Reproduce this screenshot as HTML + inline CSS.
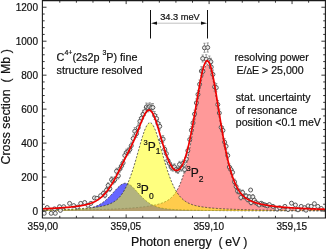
<!DOCTYPE html>
<html><head><meta charset="utf-8"><style>
html,body{margin:0;padding:0;background:#fff;width:326px;height:249px;overflow:hidden}
svg{display:block;will-change:transform}
text{font-family:"Liberation Sans",sans-serif;fill:#111;stroke:#111;stroke-width:0.2px}
</style></head><body>
<svg width="326" height="249" viewBox="0 0 326 249">
<rect width="326" height="249" fill="#fff"/>
<defs><clipPath id="c"><rect x="42.5" y="0.5" width="283" height="217.5"/></clipPath></defs>
<g clip-path="url(#c)">
<g fill="none" stroke="#333" stroke-width="0.8" stroke-dasharray="2,1.6">
<path d="M42.5,211.00 L42.50,210.35 L43.00,210.35 L43.50,210.34 L44.00,210.34 L44.50,210.33 L45.00,210.33 L45.50,210.33 L46.00,210.32 L46.50,210.32 L47.00,210.31 L47.50,210.31 L48.00,210.31 L48.50,210.30 L49.00,210.30 L49.50,210.29 L50.00,210.29 L50.50,210.28 L51.00,210.28 L51.50,210.27 L52.00,210.27 L52.50,210.26 L53.00,210.26 L53.50,210.26 L54.00,210.25 L54.50,210.25 L55.00,210.24 L55.50,210.24 L56.00,210.23 L56.50,210.23 L57.00,210.22 L57.50,210.22 L58.00,210.21 L58.50,210.20 L59.00,210.20 L59.50,210.19 L60.00,210.19 L60.50,210.18 L61.00,210.18 L61.50,210.17 L62.00,210.17 L62.50,210.16 L63.00,210.15 L63.50,210.15 L64.00,210.14 L64.50,210.14 L65.00,210.13 L65.50,210.13 L66.00,210.12 L66.50,210.11 L67.00,210.11 L67.50,210.10 L68.00,210.09 L68.50,210.09 L69.00,210.08 L69.50,210.07 L70.00,210.07 L70.50,210.06 L71.00,210.05 L71.50,210.05 L72.00,210.04 L72.50,210.03 L73.00,210.03 L73.50,210.02 L74.00,210.01 L74.50,210.00 L75.00,210.00 L75.50,209.99 L76.00,209.98 L76.50,209.97 L77.00,209.97 L77.50,209.96 L78.00,209.95 L78.50,209.94 L79.00,209.93 L79.50,209.93 L80.00,209.92 L80.50,209.91 L81.00,209.90 L81.50,209.89 L82.00,209.88 L82.50,209.87 L83.00,209.87 L83.50,209.86 L84.00,209.85 L84.50,209.84 L85.00,209.83 L85.50,209.82 L86.00,209.81 L86.50,209.80 L87.00,209.79 L87.50,209.78 L88.00,209.77 L88.50,209.76 L89.00,209.75 L89.50,209.74 L90.00,209.73 L90.50,209.72 L91.00,209.71 L91.50,209.70 L92.00,209.68 L92.50,209.67 L93.00,209.66 L93.50,209.65 L94.00,209.64 L94.50,209.63 L95.00,209.62 L95.50,209.60 L96.00,209.59 L96.50,209.58 L97.00,209.57 L97.50,209.55 L98.00,209.54 L98.50,209.53 L99.00,209.51 L99.50,209.50 L100.00,209.49 L100.50,209.47 L101.00,209.46 L101.50,209.44 L102.00,209.43 L102.50,209.41 L103.00,209.40 L103.50,209.38 L104.00,209.37 L104.50,209.35 L105.00,209.34 L105.50,209.32 L106.00,209.31 L106.50,209.29 L107.00,209.27 L107.50,209.26 L108.00,209.24 L108.50,209.22 L109.00,209.20 L109.50,209.19 L110.00,209.17 L110.50,209.15 L111.00,209.13 L111.50,209.11 L112.00,209.09 L112.50,209.07 L113.00,209.05 L113.50,209.03 L114.00,209.01 L114.50,208.99 L115.00,208.97 L115.50,208.95 L116.00,208.92 L116.50,208.90 L117.00,208.88 L117.50,208.86 L118.00,208.83 L118.50,208.81 L119.00,208.79 L119.50,208.76 L120.00,208.74 L120.50,208.71 L121.00,208.69 L121.50,208.66 L122.00,208.63 L122.50,208.61 L123.00,208.58 L123.50,208.55 L124.00,208.52 L124.50,208.49 L125.00,208.46 L125.50,208.43 L126.00,208.40 L126.50,208.37 L127.00,208.34 L127.50,208.31 L128.00,208.27 L128.50,208.24 L129.00,208.21 L129.50,208.17 L130.00,208.14 L130.50,208.10 L131.00,208.06 L131.50,208.03 L132.00,207.99 L132.50,207.95 L133.00,207.91 L133.50,207.87 L134.00,207.83 L134.50,207.79 L135.00,207.75 L135.50,207.70 L136.00,207.66 L136.50,207.61 L137.00,207.57 L137.50,207.52 L138.00,207.47 L138.50,207.42 L139.00,207.37 L139.50,207.32 L140.00,207.27 L140.50,207.22 L141.00,207.16 L141.50,207.11 L142.00,207.05 L142.50,206.99 L143.00,206.93 L143.50,206.87 L144.00,206.81 L144.50,206.75 L145.00,206.68 L145.50,206.62 L146.00,206.55 L146.50,206.48 L147.00,206.41 L147.50,206.34 L148.00,206.26 L148.50,206.19 L149.00,206.11 L149.50,206.03 L150.00,205.95 L150.50,205.86 L151.00,205.78 L151.50,205.69 L152.00,205.60 L152.50,205.50 L153.00,205.41 L153.50,205.31 L154.00,205.21 L154.50,205.10 L155.00,204.99 L155.50,204.88 L156.00,204.77 L156.50,204.65 L157.00,204.53 L157.50,204.40 L158.00,204.27 L158.50,204.13 L159.00,203.99 L159.50,203.85 L160.00,203.70 L160.50,203.54 L161.00,203.38 L161.50,203.21 L162.00,203.03 L162.50,202.85 L163.00,202.66 L163.50,202.46 L164.00,202.25 L164.50,202.03 L165.00,201.79 L165.50,201.55 L166.00,201.30 L166.50,201.03 L167.00,200.75 L167.50,200.46 L168.00,200.14 L168.50,199.82 L169.00,199.47 L169.50,199.10 L170.00,198.72 L170.50,198.31 L171.00,197.88 L171.50,197.43 L172.00,196.95 L172.50,196.44 L173.00,195.90 L173.50,195.33 L174.00,194.73 L174.50,194.09 L175.00,193.42 L175.50,192.71 L176.00,191.95 L176.50,191.16 L177.00,190.32 L177.50,189.43 L178.00,188.50 L178.50,187.52 L179.00,186.48 L179.50,185.39 L180.00,184.24 L180.50,183.03 L181.00,181.76 L181.50,180.43 L182.00,179.03 L182.50,177.57 L183.00,176.04 L183.50,174.44 L184.00,172.77 L184.50,171.03 L185.00,169.22 L185.50,167.33 L186.00,165.37 L186.50,163.33 L187.00,161.22 L187.50,159.04 L188.00,156.77 L188.50,154.44 L189.00,152.03 L189.50,149.55 L190.00,147.01 L190.50,144.39 L191.00,141.71 L191.50,138.96 L192.00,136.16 L192.50,133.30 L193.00,130.39 L193.50,127.44 L194.00,124.44 L194.50,121.41 L195.00,118.35 L195.50,115.27 L196.00,112.18 L196.50,109.08 L197.00,105.98 L197.50,102.91 L198.00,99.85 L198.50,96.84 L199.00,93.87 L199.50,90.97 L200.00,88.14 L200.50,85.41 L201.00,82.78 L201.50,80.27 L202.00,77.89 L202.50,75.67 L203.00,73.62 L203.50,71.74 L204.00,70.07 L204.50,68.60 L205.00,67.35 L205.50,66.33 L206.00,65.56 L206.50,65.03 L207.00,64.75 L207.50,64.72 L208.00,64.95 L208.50,65.43 L209.00,66.16 L209.50,67.13 L210.00,68.33 L210.50,69.76 L211.00,71.39 L211.50,73.23 L212.00,75.25 L212.50,77.44 L213.00,79.78 L213.50,82.26 L214.00,84.87 L214.50,87.59 L215.00,90.40 L215.50,93.29 L216.00,96.24 L216.50,99.25 L217.00,102.29 L217.50,105.37 L218.00,108.46 L218.50,111.56 L219.00,114.65 L219.50,117.74 L220.00,120.80 L220.50,123.84 L221.00,126.84 L221.50,129.81 L222.00,132.73 L222.50,135.59 L223.00,138.41 L223.50,141.16 L224.00,143.86 L224.50,146.49 L225.00,149.05 L225.50,151.54 L226.00,153.96 L226.50,156.31 L227.00,158.59 L227.50,160.79 L228.00,162.92 L228.50,164.97 L229.00,166.95 L229.50,168.85 L230.00,170.68 L230.50,172.43 L231.00,174.12 L231.50,175.73 L232.00,177.27 L232.50,178.75 L233.00,180.16 L233.50,181.50 L234.00,182.78 L234.50,184.00 L235.00,185.16 L235.50,186.26 L236.00,187.31 L236.50,188.31 L237.00,189.25 L237.50,190.15 L238.00,190.99 L238.50,191.80 L239.00,192.56 L239.50,193.28 L240.00,193.96 L240.50,194.60 L241.00,195.21 L241.50,195.79 L242.00,196.33 L242.50,196.85 L243.00,197.33 L243.50,197.79 L244.00,198.23 L244.50,198.64 L245.00,199.03 L245.50,199.40 L246.00,199.75 L246.50,200.08 L247.00,200.39 L247.50,200.69 L248.00,200.98 L248.50,201.25 L249.00,201.50 L249.50,201.75 L250.00,201.98 L250.50,202.20 L251.00,202.41 L251.50,202.62 L252.00,202.81 L252.50,203.00 L253.00,203.17 L253.50,203.35 L254.00,203.51 L254.50,203.67 L255.00,203.82 L255.50,203.97 L256.00,204.11 L256.50,204.24 L257.00,204.38 L257.50,204.50 L258.00,204.63 L258.50,204.74 L259.00,204.86 L259.50,204.97 L260.00,205.08 L260.50,205.19 L261.00,205.29 L261.50,205.39 L262.00,205.48 L262.50,205.58 L263.00,205.67 L263.50,205.76 L264.00,205.84 L264.50,205.93 L265.00,206.01 L265.50,206.09 L266.00,206.17 L266.50,206.25 L267.00,206.32 L267.50,206.39 L268.00,206.47 L268.50,206.54 L269.00,206.60 L269.50,206.67 L270.00,206.73 L270.50,206.80 L271.00,206.86 L271.50,206.92 L272.00,206.98 L272.50,207.04 L273.00,207.10 L273.50,207.15 L274.00,207.21 L274.50,207.26 L275.00,207.31 L275.50,207.36 L276.00,207.41 L276.50,207.46 L277.00,207.51 L277.50,207.56 L278.00,207.60 L278.50,207.65 L279.00,207.69 L279.50,207.74 L280.00,207.78 L280.50,207.82 L281.00,207.86 L281.50,207.90 L282.00,207.94 L282.50,207.98 L283.00,208.02 L283.50,208.06 L284.00,208.09 L284.50,208.13 L285.00,208.17 L285.50,208.20 L286.00,208.23 L286.50,208.27 L287.00,208.30 L287.50,208.33 L288.00,208.36 L288.50,208.40 L289.00,208.43 L289.50,208.46 L290.00,208.49 L290.50,208.52 L291.00,208.54 L291.50,208.57 L292.00,208.60 L292.50,208.63 L293.00,208.65 L293.50,208.68 L294.00,208.71 L294.50,208.73 L295.00,208.76 L295.50,208.78 L296.00,208.81 L296.50,208.83 L297.00,208.85 L297.50,208.88 L298.00,208.90 L298.50,208.92 L299.00,208.94 L299.50,208.96 L300.00,208.99 L300.50,209.01 L301.00,209.03 L301.50,209.05 L302.00,209.07 L302.50,209.09 L303.00,209.11 L303.50,209.13 L304.00,209.14 L304.50,209.16 L305.00,209.18 L305.50,209.20 L306.00,209.22 L306.50,209.23 L307.00,209.25 L307.50,209.27 L308.00,209.29 L308.50,209.30 L309.00,209.32 L309.50,209.33 L310.00,209.35 L310.50,209.37 L311.00,209.38 L311.50,209.40 L312.00,209.41 L312.50,209.43 L313.00,209.44 L313.50,209.45 L314.00,209.47 L314.50,209.48 L315.00,209.50 L315.50,209.51 L316.00,209.52 L316.50,209.54 L317.00,209.55 L317.50,209.56 L318.00,209.58 L318.50,209.59 L319.00,209.60 L319.50,209.61 L320.00,209.62 L320.50,209.64 L321.00,209.65 L321.50,209.66 L322.00,209.67 L322.50,209.68 L323.00,209.69 L323.50,209.70 L324.00,209.72 L324.50,209.73 L325.00,209.74 L325.50,209.75 L325.5,211.00 Z" fill="#ff0000" fill-opacity="0.4" stroke="none"/>
<path d="M42.50,210.35 L43.00,210.35 L43.50,210.34 L44.00,210.34 L44.50,210.33 L45.00,210.33 L45.50,210.33 L46.00,210.32 L46.50,210.32 L47.00,210.31 L47.50,210.31 L48.00,210.31 L48.50,210.30 L49.00,210.30 L49.50,210.29 L50.00,210.29 L50.50,210.28 L51.00,210.28 L51.50,210.27 L52.00,210.27 L52.50,210.26 L53.00,210.26 L53.50,210.26 L54.00,210.25 L54.50,210.25 L55.00,210.24 L55.50,210.24 L56.00,210.23 L56.50,210.23 L57.00,210.22 L57.50,210.22 L58.00,210.21 L58.50,210.20 L59.00,210.20 L59.50,210.19 L60.00,210.19 L60.50,210.18 L61.00,210.18 L61.50,210.17 L62.00,210.17 L62.50,210.16 L63.00,210.15 L63.50,210.15 L64.00,210.14 L64.50,210.14 L65.00,210.13 L65.50,210.13 L66.00,210.12 L66.50,210.11 L67.00,210.11 L67.50,210.10 L68.00,210.09 L68.50,210.09 L69.00,210.08 L69.50,210.07 L70.00,210.07 L70.50,210.06 L71.00,210.05 L71.50,210.05 L72.00,210.04 L72.50,210.03 L73.00,210.03 L73.50,210.02 L74.00,210.01 L74.50,210.00 L75.00,210.00 L75.50,209.99 L76.00,209.98 L76.50,209.97 L77.00,209.97 L77.50,209.96 L78.00,209.95 L78.50,209.94 L79.00,209.93 L79.50,209.93 L80.00,209.92 L80.50,209.91 L81.00,209.90 L81.50,209.89 L82.00,209.88 L82.50,209.87 L83.00,209.87 L83.50,209.86 L84.00,209.85 L84.50,209.84 L85.00,209.83 L85.50,209.82 L86.00,209.81 L86.50,209.80 L87.00,209.79 L87.50,209.78 L88.00,209.77 L88.50,209.76 L89.00,209.75 L89.50,209.74 L90.00,209.73 L90.50,209.72 L91.00,209.71 L91.50,209.70 L92.00,209.68 L92.50,209.67 L93.00,209.66 L93.50,209.65 L94.00,209.64 L94.50,209.63 L95.00,209.62 L95.50,209.60 L96.00,209.59 L96.50,209.58 L97.00,209.57 L97.50,209.55 L98.00,209.54 L98.50,209.53 L99.00,209.51 L99.50,209.50 L100.00,209.49 L100.50,209.47 L101.00,209.46 L101.50,209.44 L102.00,209.43 L102.50,209.41 L103.00,209.40 L103.50,209.38 L104.00,209.37 L104.50,209.35 L105.00,209.34 L105.50,209.32 L106.00,209.31 L106.50,209.29 L107.00,209.27 L107.50,209.26 L108.00,209.24 L108.50,209.22 L109.00,209.20 L109.50,209.19 L110.00,209.17 L110.50,209.15 L111.00,209.13 L111.50,209.11 L112.00,209.09 L112.50,209.07 L113.00,209.05 L113.50,209.03 L114.00,209.01 L114.50,208.99 L115.00,208.97 L115.50,208.95 L116.00,208.92 L116.50,208.90 L117.00,208.88 L117.50,208.86 L118.00,208.83 L118.50,208.81 L119.00,208.79 L119.50,208.76 L120.00,208.74 L120.50,208.71 L121.00,208.69 L121.50,208.66 L122.00,208.63 L122.50,208.61 L123.00,208.58 L123.50,208.55 L124.00,208.52 L124.50,208.49 L125.00,208.46 L125.50,208.43 L126.00,208.40 L126.50,208.37 L127.00,208.34 L127.50,208.31 L128.00,208.27 L128.50,208.24 L129.00,208.21 L129.50,208.17 L130.00,208.14 L130.50,208.10 L131.00,208.06 L131.50,208.03 L132.00,207.99 L132.50,207.95 L133.00,207.91 L133.50,207.87 L134.00,207.83 L134.50,207.79 L135.00,207.75 L135.50,207.70 L136.00,207.66 L136.50,207.61 L137.00,207.57 L137.50,207.52 L138.00,207.47 L138.50,207.42 L139.00,207.37 L139.50,207.32 L140.00,207.27 L140.50,207.22 L141.00,207.16 L141.50,207.11 L142.00,207.05 L142.50,206.99 L143.00,206.93 L143.50,206.87 L144.00,206.81 L144.50,206.75 L145.00,206.68 L145.50,206.62 L146.00,206.55 L146.50,206.48 L147.00,206.41 L147.50,206.34 L148.00,206.26 L148.50,206.19 L149.00,206.11 L149.50,206.03 L150.00,205.95 L150.50,205.86 L151.00,205.78 L151.50,205.69 L152.00,205.60 L152.50,205.50 L153.00,205.41 L153.50,205.31 L154.00,205.21 L154.50,205.10 L155.00,204.99 L155.50,204.88 L156.00,204.77 L156.50,204.65 L157.00,204.53 L157.50,204.40 L158.00,204.27 L158.50,204.13 L159.00,203.99 L159.50,203.85 L160.00,203.70 L160.50,203.54 L161.00,203.38 L161.50,203.21 L162.00,203.03 L162.50,202.85 L163.00,202.66 L163.50,202.46 L164.00,202.25 L164.50,202.03 L165.00,201.79 L165.50,201.55 L166.00,201.30 L166.50,201.03 L167.00,200.75 L167.50,200.46 L168.00,200.14 L168.50,199.82 L169.00,199.47 L169.50,199.10 L170.00,198.72 L170.50,198.31 L171.00,197.88 L171.50,197.43 L172.00,196.95 L172.50,196.44 L173.00,195.90 L173.50,195.33 L174.00,194.73 L174.50,194.09 L175.00,193.42 L175.50,192.71 L176.00,191.95 L176.50,191.16 L177.00,190.32 L177.50,189.43 L178.00,188.50 L178.50,187.52 L179.00,186.48 L179.50,185.39 L180.00,184.24 L180.50,183.03 L181.00,181.76 L181.50,180.43 L182.00,179.03 L182.50,177.57 L183.00,176.04 L183.50,174.44 L184.00,172.77 L184.50,171.03 L185.00,169.22 L185.50,167.33 L186.00,165.37 L186.50,163.33 L187.00,161.22 L187.50,159.04 L188.00,156.77 L188.50,154.44 L189.00,152.03 L189.50,149.55 L190.00,147.01 L190.50,144.39 L191.00,141.71 L191.50,138.96 L192.00,136.16 L192.50,133.30 L193.00,130.39 L193.50,127.44 L194.00,124.44 L194.50,121.41 L195.00,118.35 L195.50,115.27 L196.00,112.18 L196.50,109.08 L197.00,105.98 L197.50,102.91 L198.00,99.85 L198.50,96.84 L199.00,93.87 L199.50,90.97 L200.00,88.14 L200.50,85.41 L201.00,82.78 L201.50,80.27 L202.00,77.89 L202.50,75.67 L203.00,73.62 L203.50,71.74 L204.00,70.07 L204.50,68.60 L205.00,67.35 L205.50,66.33 L206.00,65.56 L206.50,65.03 L207.00,64.75 L207.50,64.72 L208.00,64.95 L208.50,65.43 L209.00,66.16 L209.50,67.13 L210.00,68.33 L210.50,69.76 L211.00,71.39 L211.50,73.23 L212.00,75.25 L212.50,77.44 L213.00,79.78 L213.50,82.26 L214.00,84.87 L214.50,87.59 L215.00,90.40 L215.50,93.29 L216.00,96.24 L216.50,99.25 L217.00,102.29 L217.50,105.37 L218.00,108.46 L218.50,111.56 L219.00,114.65 L219.50,117.74 L220.00,120.80 L220.50,123.84 L221.00,126.84 L221.50,129.81 L222.00,132.73 L222.50,135.59 L223.00,138.41 L223.50,141.16 L224.00,143.86 L224.50,146.49 L225.00,149.05 L225.50,151.54 L226.00,153.96 L226.50,156.31 L227.00,158.59 L227.50,160.79 L228.00,162.92 L228.50,164.97 L229.00,166.95 L229.50,168.85 L230.00,170.68 L230.50,172.43 L231.00,174.12 L231.50,175.73 L232.00,177.27 L232.50,178.75 L233.00,180.16 L233.50,181.50 L234.00,182.78 L234.50,184.00 L235.00,185.16 L235.50,186.26 L236.00,187.31 L236.50,188.31 L237.00,189.25 L237.50,190.15 L238.00,190.99 L238.50,191.80 L239.00,192.56 L239.50,193.28 L240.00,193.96 L240.50,194.60 L241.00,195.21 L241.50,195.79 L242.00,196.33 L242.50,196.85 L243.00,197.33 L243.50,197.79 L244.00,198.23 L244.50,198.64 L245.00,199.03 L245.50,199.40 L246.00,199.75 L246.50,200.08 L247.00,200.39 L247.50,200.69 L248.00,200.98 L248.50,201.25 L249.00,201.50 L249.50,201.75 L250.00,201.98 L250.50,202.20 L251.00,202.41 L251.50,202.62 L252.00,202.81 L252.50,203.00 L253.00,203.17 L253.50,203.35 L254.00,203.51 L254.50,203.67 L255.00,203.82 L255.50,203.97 L256.00,204.11 L256.50,204.24 L257.00,204.38 L257.50,204.50 L258.00,204.63 L258.50,204.74 L259.00,204.86 L259.50,204.97 L260.00,205.08 L260.50,205.19 L261.00,205.29 L261.50,205.39 L262.00,205.48 L262.50,205.58 L263.00,205.67 L263.50,205.76 L264.00,205.84 L264.50,205.93 L265.00,206.01 L265.50,206.09 L266.00,206.17 L266.50,206.25 L267.00,206.32 L267.50,206.39 L268.00,206.47 L268.50,206.54 L269.00,206.60 L269.50,206.67 L270.00,206.73 L270.50,206.80 L271.00,206.86 L271.50,206.92 L272.00,206.98 L272.50,207.04 L273.00,207.10 L273.50,207.15 L274.00,207.21 L274.50,207.26 L275.00,207.31 L275.50,207.36 L276.00,207.41 L276.50,207.46 L277.00,207.51 L277.50,207.56 L278.00,207.60 L278.50,207.65 L279.00,207.69 L279.50,207.74 L280.00,207.78 L280.50,207.82 L281.00,207.86 L281.50,207.90 L282.00,207.94 L282.50,207.98 L283.00,208.02 L283.50,208.06 L284.00,208.09 L284.50,208.13 L285.00,208.17 L285.50,208.20 L286.00,208.23 L286.50,208.27 L287.00,208.30 L287.50,208.33 L288.00,208.36 L288.50,208.40 L289.00,208.43 L289.50,208.46 L290.00,208.49 L290.50,208.52 L291.00,208.54 L291.50,208.57 L292.00,208.60 L292.50,208.63 L293.00,208.65 L293.50,208.68 L294.00,208.71 L294.50,208.73 L295.00,208.76 L295.50,208.78 L296.00,208.81 L296.50,208.83 L297.00,208.85 L297.50,208.88 L298.00,208.90 L298.50,208.92 L299.00,208.94 L299.50,208.96 L300.00,208.99 L300.50,209.01 L301.00,209.03 L301.50,209.05 L302.00,209.07 L302.50,209.09 L303.00,209.11 L303.50,209.13 L304.00,209.14 L304.50,209.16 L305.00,209.18 L305.50,209.20 L306.00,209.22 L306.50,209.23 L307.00,209.25 L307.50,209.27 L308.00,209.29 L308.50,209.30 L309.00,209.32 L309.50,209.33 L310.00,209.35 L310.50,209.37 L311.00,209.38 L311.50,209.40 L312.00,209.41 L312.50,209.43 L313.00,209.44 L313.50,209.45 L314.00,209.47 L314.50,209.48 L315.00,209.50 L315.50,209.51 L316.00,209.52 L316.50,209.54 L317.00,209.55 L317.50,209.56 L318.00,209.58 L318.50,209.59 L319.00,209.60 L319.50,209.61 L320.00,209.62 L320.50,209.64 L321.00,209.65 L321.50,209.66 L322.00,209.67 L322.50,209.68 L323.00,209.69 L323.50,209.70 L324.00,209.72 L324.50,209.73 L325.00,209.74 L325.50,209.75"/>
<path d="M42.5,211.00 L42.50,210.47 L43.00,210.47 L43.50,210.46 L44.00,210.45 L44.50,210.45 L45.00,210.44 L45.50,210.43 L46.00,210.43 L46.50,210.42 L47.00,210.41 L47.50,210.40 L48.00,210.40 L48.50,210.39 L49.00,210.38 L49.50,210.37 L50.00,210.37 L50.50,210.36 L51.00,210.35 L51.50,210.34 L52.00,210.33 L52.50,210.32 L53.00,210.32 L53.50,210.31 L54.00,210.30 L54.50,210.29 L55.00,210.28 L55.50,210.27 L56.00,210.26 L56.50,210.25 L57.00,210.24 L57.50,210.23 L58.00,210.22 L58.50,210.21 L59.00,210.19 L59.50,210.18 L60.00,210.17 L60.50,210.16 L61.00,210.15 L61.50,210.13 L62.00,210.12 L62.50,210.11 L63.00,210.09 L63.50,210.08 L64.00,210.07 L64.50,210.05 L65.00,210.04 L65.50,210.02 L66.00,210.01 L66.50,209.99 L67.00,209.97 L67.50,209.96 L68.00,209.94 L68.50,209.92 L69.00,209.90 L69.50,209.88 L70.00,209.87 L70.50,209.85 L71.00,209.83 L71.50,209.80 L72.00,209.78 L72.50,209.76 L73.00,209.74 L73.50,209.71 L74.00,209.69 L74.50,209.66 L75.00,209.64 L75.50,209.61 L76.00,209.58 L76.50,209.55 L77.00,209.52 L77.50,209.49 L78.00,209.46 L78.50,209.42 L79.00,209.39 L79.50,209.35 L80.00,209.31 L80.50,209.27 L81.00,209.23 L81.50,209.19 L82.00,209.14 L82.50,209.09 L83.00,209.04 L83.50,208.99 L84.00,208.93 L84.50,208.87 L85.00,208.81 L85.50,208.74 L86.00,208.67 L86.50,208.60 L87.00,208.52 L87.50,208.44 L88.00,208.36 L88.50,208.27 L89.00,208.17 L89.50,208.07 L90.00,207.97 L90.50,207.86 L91.00,207.74 L91.50,207.62 L92.00,207.49 L92.50,207.35 L93.00,207.21 L93.50,207.06 L94.00,206.90 L94.50,206.73 L95.00,206.55 L95.50,206.37 L96.00,206.17 L96.50,205.97 L97.00,205.75 L97.50,205.53 L98.00,205.29 L98.50,205.05 L99.00,204.79 L99.50,204.52 L100.00,204.24 L100.50,203.95 L101.00,203.65 L101.50,203.33 L102.00,203.00 L102.50,202.66 L103.00,202.31 L103.50,201.94 L104.00,201.56 L104.50,201.17 L105.00,200.77 L105.50,200.35 L106.00,199.92 L106.50,199.48 L107.00,199.03 L107.50,198.56 L108.00,198.08 L108.50,197.60 L109.00,197.10 L109.50,196.59 L110.00,196.08 L110.50,195.55 L111.00,195.02 L111.50,194.48 L112.00,193.93 L112.50,193.38 L113.00,192.83 L113.50,192.27 L114.00,191.72 L114.50,191.16 L115.00,190.61 L115.50,190.06 L116.00,189.51 L116.50,188.98 L117.00,188.45 L117.50,187.94 L118.00,187.43 L118.50,186.95 L119.00,186.48 L119.50,186.04 L120.00,185.62 L120.50,185.23 L121.00,184.86 L121.50,184.53 L122.00,184.23 L122.50,183.96 L123.00,183.73 L123.50,183.54 L124.00,183.39 L124.50,183.29 L125.00,183.22 L125.50,183.20 L126.00,183.22 L126.50,183.29 L127.00,183.39 L127.50,183.54 L128.00,183.73 L128.50,183.96 L129.00,184.23 L129.50,184.53 L130.00,184.86 L130.50,185.23 L131.00,185.62 L131.50,186.04 L132.00,186.48 L132.50,186.95 L133.00,187.43 L133.50,187.94 L134.00,188.45 L134.50,188.98 L135.00,189.51 L135.50,190.06 L136.00,190.61 L136.50,191.16 L137.00,191.72 L137.50,192.27 L138.00,192.83 L138.50,193.38 L139.00,193.93 L139.50,194.48 L140.00,195.02 L140.50,195.55 L141.00,196.08 L141.50,196.59 L142.00,197.10 L142.50,197.60 L143.00,198.08 L143.50,198.56 L144.00,199.03 L144.50,199.48 L145.00,199.92 L145.50,200.35 L146.00,200.77 L146.50,201.17 L147.00,201.56 L147.50,201.94 L148.00,202.31 L148.50,202.66 L149.00,203.00 L149.50,203.33 L150.00,203.65 L150.50,203.95 L151.00,204.24 L151.50,204.52 L152.00,204.79 L152.50,205.05 L153.00,205.29 L153.50,205.53 L154.00,205.75 L154.50,205.97 L155.00,206.17 L155.50,206.37 L156.00,206.55 L156.50,206.73 L157.00,206.90 L157.50,207.06 L158.00,207.21 L158.50,207.35 L159.00,207.49 L159.50,207.62 L160.00,207.74 L160.50,207.86 L161.00,207.97 L161.50,208.07 L162.00,208.17 L162.50,208.27 L163.00,208.36 L163.50,208.44 L164.00,208.52 L164.50,208.60 L165.00,208.67 L165.50,208.74 L166.00,208.81 L166.50,208.87 L167.00,208.93 L167.50,208.99 L168.00,209.04 L168.50,209.09 L169.00,209.14 L169.50,209.19 L170.00,209.23 L170.50,209.27 L171.00,209.31 L171.50,209.35 L172.00,209.39 L172.50,209.42 L173.00,209.46 L173.50,209.49 L174.00,209.52 L174.50,209.55 L175.00,209.58 L175.50,209.61 L176.00,209.64 L176.50,209.66 L177.00,209.69 L177.50,209.71 L178.00,209.74 L178.50,209.76 L179.00,209.78 L179.50,209.80 L180.00,209.83 L180.50,209.85 L181.00,209.87 L181.50,209.88 L182.00,209.90 L182.50,209.92 L183.00,209.94 L183.50,209.96 L184.00,209.97 L184.50,209.99 L185.00,210.01 L185.50,210.02 L186.00,210.04 L186.50,210.05 L187.00,210.07 L187.50,210.08 L188.00,210.09 L188.50,210.11 L189.00,210.12 L189.50,210.13 L190.00,210.15 L190.50,210.16 L191.00,210.17 L191.50,210.18 L192.00,210.19 L192.50,210.21 L193.00,210.22 L193.50,210.23 L194.00,210.24 L194.50,210.25 L195.00,210.26 L195.50,210.27 L196.00,210.28 L196.50,210.29 L197.00,210.30 L197.50,210.31 L198.00,210.32 L198.50,210.32 L199.00,210.33 L199.50,210.34 L200.00,210.35 L200.50,210.36 L201.00,210.37 L201.50,210.37 L202.00,210.38 L202.50,210.39 L203.00,210.40 L203.50,210.40 L204.00,210.41 L204.50,210.42 L205.00,210.43 L205.50,210.43 L206.00,210.44 L206.50,210.45 L207.00,210.45 L207.50,210.46 L208.00,210.47 L208.50,210.47 L209.00,210.48 L209.50,210.48 L210.00,210.49 L210.50,210.50 L211.00,210.50 L211.50,210.51 L212.00,210.51 L212.50,210.52 L213.00,210.52 L213.50,210.53 L214.00,210.53 L214.50,210.54 L215.00,210.54 L215.50,210.55 L216.00,210.55 L216.50,210.56 L217.00,210.56 L217.50,210.57 L218.00,210.57 L218.50,210.58 L219.00,210.58 L219.50,210.58 L220.00,210.59 L220.50,210.59 L221.00,210.60 L221.50,210.60 L222.00,210.61 L222.50,210.61 L223.00,210.61 L223.50,210.62 L224.00,210.62 L224.50,210.62 L225.00,210.63 L225.50,210.63 L226.00,210.64 L226.50,210.64 L227.00,210.64 L227.50,210.65 L228.00,210.65 L228.50,210.65 L229.00,210.66 L229.50,210.66 L230.00,210.66 L230.50,210.67 L231.00,210.67 L231.50,210.67 L232.00,210.67 L232.50,210.68 L233.00,210.68 L233.50,210.68 L234.00,210.69 L234.50,210.69 L235.00,210.69 L235.50,210.69 L236.00,210.70 L236.50,210.70 L237.00,210.70 L237.50,210.70 L238.00,210.71 L238.50,210.71 L239.00,210.71 L239.50,210.71 L240.00,210.72 L240.50,210.72 L241.00,210.72 L241.50,210.72 L242.00,210.73 L242.50,210.73 L243.00,210.73 L243.50,210.73 L244.00,210.74 L244.50,210.74 L245.00,210.74 L245.50,210.74 L246.00,210.74 L246.50,210.75 L247.00,210.75 L247.50,210.75 L248.00,210.75 L248.50,210.75 L249.00,210.76 L249.50,210.76 L250.00,210.76 L250.50,210.76 L251.00,210.76 L251.50,210.77 L252.00,210.77 L252.50,210.77 L253.00,210.77 L253.50,210.77 L254.00,210.77 L254.50,210.78 L255.00,210.78 L255.50,210.78 L256.00,210.78 L256.50,210.78 L257.00,210.78 L257.50,210.79 L258.00,210.79 L258.50,210.79 L259.00,210.79 L259.50,210.79 L260.00,210.79 L260.50,210.80 L261.00,210.80 L261.50,210.80 L262.00,210.80 L262.50,210.80 L263.00,210.80 L263.50,210.80 L264.00,210.81 L264.50,210.81 L265.00,210.81 L265.50,210.81 L266.00,210.81 L266.50,210.81 L267.00,210.81 L267.50,210.81 L268.00,210.82 L268.50,210.82 L269.00,210.82 L269.50,210.82 L270.00,210.82 L270.50,210.82 L271.00,210.82 L271.50,210.82 L272.00,210.83 L272.50,210.83 L273.00,210.83 L273.50,210.83 L274.00,210.83 L274.50,210.83 L275.00,210.83 L275.50,210.83 L276.00,210.83 L276.50,210.84 L277.00,210.84 L277.50,210.84 L278.00,210.84 L278.50,210.84 L279.00,210.84 L279.50,210.84 L280.00,210.84 L280.50,210.84 L281.00,210.85 L281.50,210.85 L282.00,210.85 L282.50,210.85 L283.00,210.85 L283.50,210.85 L284.00,210.85 L284.50,210.85 L285.00,210.85 L285.50,210.85 L286.00,210.85 L286.50,210.86 L287.00,210.86 L287.50,210.86 L288.00,210.86 L288.50,210.86 L289.00,210.86 L289.50,210.86 L290.00,210.86 L290.50,210.86 L291.00,210.86 L291.50,210.86 L292.00,210.86 L292.50,210.87 L293.00,210.87 L293.50,210.87 L294.00,210.87 L294.50,210.87 L295.00,210.87 L295.50,210.87 L296.00,210.87 L296.50,210.87 L297.00,210.87 L297.50,210.87 L298.00,210.87 L298.50,210.87 L299.00,210.88 L299.50,210.88 L300.00,210.88 L300.50,210.88 L301.00,210.88 L301.50,210.88 L302.00,210.88 L302.50,210.88 L303.00,210.88 L303.50,210.88 L304.00,210.88 L304.50,210.88 L305.00,210.88 L305.50,210.88 L306.00,210.88 L306.50,210.89 L307.00,210.89 L307.50,210.89 L308.00,210.89 L308.50,210.89 L309.00,210.89 L309.50,210.89 L310.00,210.89 L310.50,210.89 L311.00,210.89 L311.50,210.89 L312.00,210.89 L312.50,210.89 L313.00,210.89 L313.50,210.89 L314.00,210.89 L314.50,210.89 L315.00,210.90 L315.50,210.90 L316.00,210.90 L316.50,210.90 L317.00,210.90 L317.50,210.90 L318.00,210.90 L318.50,210.90 L319.00,210.90 L319.50,210.90 L320.00,210.90 L320.50,210.90 L321.00,210.90 L321.50,210.90 L322.00,210.90 L322.50,210.90 L323.00,210.90 L323.50,210.90 L324.00,210.90 L324.50,210.91 L325.00,210.91 L325.50,210.91 L325.5,211.00 Z" fill="#0000ff" fill-opacity="0.6" stroke="none"/>
<path d="M42.50,210.47 L43.00,210.47 L43.50,210.46 L44.00,210.45 L44.50,210.45 L45.00,210.44 L45.50,210.43 L46.00,210.43 L46.50,210.42 L47.00,210.41 L47.50,210.40 L48.00,210.40 L48.50,210.39 L49.00,210.38 L49.50,210.37 L50.00,210.37 L50.50,210.36 L51.00,210.35 L51.50,210.34 L52.00,210.33 L52.50,210.32 L53.00,210.32 L53.50,210.31 L54.00,210.30 L54.50,210.29 L55.00,210.28 L55.50,210.27 L56.00,210.26 L56.50,210.25 L57.00,210.24 L57.50,210.23 L58.00,210.22 L58.50,210.21 L59.00,210.19 L59.50,210.18 L60.00,210.17 L60.50,210.16 L61.00,210.15 L61.50,210.13 L62.00,210.12 L62.50,210.11 L63.00,210.09 L63.50,210.08 L64.00,210.07 L64.50,210.05 L65.00,210.04 L65.50,210.02 L66.00,210.01 L66.50,209.99 L67.00,209.97 L67.50,209.96 L68.00,209.94 L68.50,209.92 L69.00,209.90 L69.50,209.88 L70.00,209.87 L70.50,209.85 L71.00,209.83 L71.50,209.80 L72.00,209.78 L72.50,209.76 L73.00,209.74 L73.50,209.71 L74.00,209.69 L74.50,209.66 L75.00,209.64 L75.50,209.61 L76.00,209.58 L76.50,209.55 L77.00,209.52 L77.50,209.49 L78.00,209.46 L78.50,209.42 L79.00,209.39 L79.50,209.35 L80.00,209.31 L80.50,209.27 L81.00,209.23 L81.50,209.19 L82.00,209.14 L82.50,209.09 L83.00,209.04 L83.50,208.99 L84.00,208.93 L84.50,208.87 L85.00,208.81 L85.50,208.74 L86.00,208.67 L86.50,208.60 L87.00,208.52 L87.50,208.44 L88.00,208.36 L88.50,208.27 L89.00,208.17 L89.50,208.07 L90.00,207.97 L90.50,207.86 L91.00,207.74 L91.50,207.62 L92.00,207.49 L92.50,207.35 L93.00,207.21 L93.50,207.06 L94.00,206.90 L94.50,206.73 L95.00,206.55 L95.50,206.37 L96.00,206.17 L96.50,205.97 L97.00,205.75 L97.50,205.53 L98.00,205.29 L98.50,205.05 L99.00,204.79 L99.50,204.52 L100.00,204.24 L100.50,203.95 L101.00,203.65 L101.50,203.33 L102.00,203.00 L102.50,202.66 L103.00,202.31 L103.50,201.94 L104.00,201.56 L104.50,201.17 L105.00,200.77 L105.50,200.35 L106.00,199.92 L106.50,199.48 L107.00,199.03 L107.50,198.56 L108.00,198.08 L108.50,197.60 L109.00,197.10 L109.50,196.59 L110.00,196.08 L110.50,195.55 L111.00,195.02 L111.50,194.48 L112.00,193.93 L112.50,193.38 L113.00,192.83 L113.50,192.27 L114.00,191.72 L114.50,191.16 L115.00,190.61 L115.50,190.06 L116.00,189.51 L116.50,188.98 L117.00,188.45 L117.50,187.94 L118.00,187.43 L118.50,186.95 L119.00,186.48 L119.50,186.04 L120.00,185.62 L120.50,185.23 L121.00,184.86 L121.50,184.53 L122.00,184.23 L122.50,183.96 L123.00,183.73 L123.50,183.54 L124.00,183.39 L124.50,183.29 L125.00,183.22 L125.50,183.20 L126.00,183.22 L126.50,183.29 L127.00,183.39 L127.50,183.54 L128.00,183.73 L128.50,183.96 L129.00,184.23 L129.50,184.53 L130.00,184.86 L130.50,185.23 L131.00,185.62 L131.50,186.04 L132.00,186.48 L132.50,186.95 L133.00,187.43 L133.50,187.94 L134.00,188.45 L134.50,188.98 L135.00,189.51 L135.50,190.06 L136.00,190.61 L136.50,191.16 L137.00,191.72 L137.50,192.27 L138.00,192.83 L138.50,193.38 L139.00,193.93 L139.50,194.48 L140.00,195.02 L140.50,195.55 L141.00,196.08 L141.50,196.59 L142.00,197.10 L142.50,197.60 L143.00,198.08 L143.50,198.56 L144.00,199.03 L144.50,199.48 L145.00,199.92 L145.50,200.35 L146.00,200.77 L146.50,201.17 L147.00,201.56 L147.50,201.94 L148.00,202.31 L148.50,202.66 L149.00,203.00 L149.50,203.33 L150.00,203.65 L150.50,203.95 L151.00,204.24 L151.50,204.52 L152.00,204.79 L152.50,205.05 L153.00,205.29 L153.50,205.53 L154.00,205.75 L154.50,205.97 L155.00,206.17 L155.50,206.37 L156.00,206.55 L156.50,206.73 L157.00,206.90 L157.50,207.06 L158.00,207.21 L158.50,207.35 L159.00,207.49 L159.50,207.62 L160.00,207.74 L160.50,207.86 L161.00,207.97 L161.50,208.07 L162.00,208.17 L162.50,208.27 L163.00,208.36 L163.50,208.44 L164.00,208.52 L164.50,208.60 L165.00,208.67 L165.50,208.74 L166.00,208.81 L166.50,208.87 L167.00,208.93 L167.50,208.99 L168.00,209.04 L168.50,209.09 L169.00,209.14 L169.50,209.19 L170.00,209.23 L170.50,209.27 L171.00,209.31 L171.50,209.35 L172.00,209.39 L172.50,209.42 L173.00,209.46 L173.50,209.49 L174.00,209.52 L174.50,209.55 L175.00,209.58 L175.50,209.61 L176.00,209.64 L176.50,209.66 L177.00,209.69 L177.50,209.71 L178.00,209.74 L178.50,209.76 L179.00,209.78 L179.50,209.80 L180.00,209.83 L180.50,209.85 L181.00,209.87 L181.50,209.88 L182.00,209.90 L182.50,209.92 L183.00,209.94 L183.50,209.96 L184.00,209.97 L184.50,209.99 L185.00,210.01 L185.50,210.02 L186.00,210.04 L186.50,210.05 L187.00,210.07 L187.50,210.08 L188.00,210.09 L188.50,210.11 L189.00,210.12 L189.50,210.13 L190.00,210.15 L190.50,210.16 L191.00,210.17 L191.50,210.18 L192.00,210.19 L192.50,210.21 L193.00,210.22 L193.50,210.23 L194.00,210.24 L194.50,210.25 L195.00,210.26 L195.50,210.27 L196.00,210.28 L196.50,210.29 L197.00,210.30 L197.50,210.31 L198.00,210.32 L198.50,210.32 L199.00,210.33 L199.50,210.34 L200.00,210.35 L200.50,210.36 L201.00,210.37 L201.50,210.37 L202.00,210.38 L202.50,210.39 L203.00,210.40 L203.50,210.40 L204.00,210.41 L204.50,210.42 L205.00,210.43 L205.50,210.43 L206.00,210.44 L206.50,210.45 L207.00,210.45 L207.50,210.46 L208.00,210.47 L208.50,210.47 L209.00,210.48 L209.50,210.48 L210.00,210.49 L210.50,210.50 L211.00,210.50 L211.50,210.51 L212.00,210.51 L212.50,210.52 L213.00,210.52 L213.50,210.53 L214.00,210.53 L214.50,210.54 L215.00,210.54 L215.50,210.55 L216.00,210.55 L216.50,210.56 L217.00,210.56 L217.50,210.57 L218.00,210.57 L218.50,210.58 L219.00,210.58 L219.50,210.58 L220.00,210.59 L220.50,210.59 L221.00,210.60 L221.50,210.60 L222.00,210.61 L222.50,210.61 L223.00,210.61 L223.50,210.62 L224.00,210.62 L224.50,210.62 L225.00,210.63 L225.50,210.63 L226.00,210.64 L226.50,210.64 L227.00,210.64 L227.50,210.65 L228.00,210.65 L228.50,210.65 L229.00,210.66 L229.50,210.66 L230.00,210.66 L230.50,210.67 L231.00,210.67 L231.50,210.67 L232.00,210.67 L232.50,210.68 L233.00,210.68 L233.50,210.68 L234.00,210.69 L234.50,210.69 L235.00,210.69 L235.50,210.69 L236.00,210.70 L236.50,210.70 L237.00,210.70 L237.50,210.70 L238.00,210.71 L238.50,210.71 L239.00,210.71 L239.50,210.71 L240.00,210.72 L240.50,210.72 L241.00,210.72 L241.50,210.72 L242.00,210.73 L242.50,210.73 L243.00,210.73 L243.50,210.73 L244.00,210.74 L244.50,210.74 L245.00,210.74 L245.50,210.74 L246.00,210.74 L246.50,210.75 L247.00,210.75 L247.50,210.75 L248.00,210.75 L248.50,210.75 L249.00,210.76 L249.50,210.76 L250.00,210.76 L250.50,210.76 L251.00,210.76 L251.50,210.77 L252.00,210.77 L252.50,210.77 L253.00,210.77 L253.50,210.77 L254.00,210.77 L254.50,210.78 L255.00,210.78 L255.50,210.78 L256.00,210.78 L256.50,210.78 L257.00,210.78 L257.50,210.79 L258.00,210.79 L258.50,210.79 L259.00,210.79 L259.50,210.79 L260.00,210.79 L260.50,210.80 L261.00,210.80 L261.50,210.80 L262.00,210.80 L262.50,210.80 L263.00,210.80 L263.50,210.80 L264.00,210.81 L264.50,210.81 L265.00,210.81 L265.50,210.81 L266.00,210.81 L266.50,210.81 L267.00,210.81 L267.50,210.81 L268.00,210.82 L268.50,210.82 L269.00,210.82 L269.50,210.82 L270.00,210.82 L270.50,210.82 L271.00,210.82 L271.50,210.82 L272.00,210.83 L272.50,210.83 L273.00,210.83 L273.50,210.83 L274.00,210.83 L274.50,210.83 L275.00,210.83 L275.50,210.83 L276.00,210.83 L276.50,210.84 L277.00,210.84 L277.50,210.84 L278.00,210.84 L278.50,210.84 L279.00,210.84 L279.50,210.84 L280.00,210.84 L280.50,210.84 L281.00,210.85 L281.50,210.85 L282.00,210.85 L282.50,210.85 L283.00,210.85 L283.50,210.85 L284.00,210.85 L284.50,210.85 L285.00,210.85 L285.50,210.85 L286.00,210.85 L286.50,210.86 L287.00,210.86 L287.50,210.86 L288.00,210.86 L288.50,210.86 L289.00,210.86 L289.50,210.86 L290.00,210.86 L290.50,210.86 L291.00,210.86 L291.50,210.86 L292.00,210.86 L292.50,210.87 L293.00,210.87 L293.50,210.87 L294.00,210.87 L294.50,210.87 L295.00,210.87 L295.50,210.87 L296.00,210.87 L296.50,210.87 L297.00,210.87 L297.50,210.87 L298.00,210.87 L298.50,210.87 L299.00,210.88 L299.50,210.88 L300.00,210.88 L300.50,210.88 L301.00,210.88 L301.50,210.88 L302.00,210.88 L302.50,210.88 L303.00,210.88 L303.50,210.88 L304.00,210.88 L304.50,210.88 L305.00,210.88 L305.50,210.88 L306.00,210.88 L306.50,210.89 L307.00,210.89 L307.50,210.89 L308.00,210.89 L308.50,210.89 L309.00,210.89 L309.50,210.89 L310.00,210.89 L310.50,210.89 L311.00,210.89 L311.50,210.89 L312.00,210.89 L312.50,210.89 L313.00,210.89 L313.50,210.89 L314.00,210.89 L314.50,210.89 L315.00,210.90 L315.50,210.90 L316.00,210.90 L316.50,210.90 L317.00,210.90 L317.50,210.90 L318.00,210.90 L318.50,210.90 L319.00,210.90 L319.50,210.90 L320.00,210.90 L320.50,210.90 L321.00,210.90 L321.50,210.90 L322.00,210.90 L322.50,210.90 L323.00,210.90 L323.50,210.90 L324.00,210.90 L324.50,210.91 L325.00,210.91 L325.50,210.91"/>
<path d="M42.5,211.00 L42.50,209.97 L43.00,209.96 L43.50,209.95 L44.00,209.94 L44.50,209.93 L45.00,209.92 L45.50,209.91 L46.00,209.90 L46.50,209.89 L47.00,209.88 L47.50,209.87 L48.00,209.86 L48.50,209.85 L49.00,209.83 L49.50,209.82 L50.00,209.81 L50.50,209.80 L51.00,209.79 L51.50,209.78 L52.00,209.76 L52.50,209.75 L53.00,209.74 L53.50,209.73 L54.00,209.71 L54.50,209.70 L55.00,209.69 L55.50,209.67 L56.00,209.66 L56.50,209.65 L57.00,209.63 L57.50,209.62 L58.00,209.60 L58.50,209.59 L59.00,209.57 L59.50,209.56 L60.00,209.54 L60.50,209.53 L61.00,209.51 L61.50,209.49 L62.00,209.48 L62.50,209.46 L63.00,209.44 L63.50,209.43 L64.00,209.41 L64.50,209.39 L65.00,209.37 L65.50,209.35 L66.00,209.33 L66.50,209.31 L67.00,209.29 L67.50,209.27 L68.00,209.25 L68.50,209.23 L69.00,209.21 L69.50,209.19 L70.00,209.17 L70.50,209.15 L71.00,209.13 L71.50,209.10 L72.00,209.08 L72.50,209.05 L73.00,209.03 L73.50,209.01 L74.00,208.98 L74.50,208.96 L75.00,208.93 L75.50,208.90 L76.00,208.88 L76.50,208.85 L77.00,208.82 L77.50,208.79 L78.00,208.76 L78.50,208.73 L79.00,208.70 L79.50,208.67 L80.00,208.64 L80.50,208.61 L81.00,208.57 L81.50,208.54 L82.00,208.50 L82.50,208.47 L83.00,208.43 L83.50,208.40 L84.00,208.36 L84.50,208.32 L85.00,208.28 L85.50,208.24 L86.00,208.20 L86.50,208.16 L87.00,208.12 L87.50,208.07 L88.00,208.03 L88.50,207.98 L89.00,207.94 L89.50,207.89 L90.00,207.84 L90.50,207.79 L91.00,207.74 L91.50,207.69 L92.00,207.63 L92.50,207.58 L93.00,207.52 L93.50,207.46 L94.00,207.40 L94.50,207.34 L95.00,207.28 L95.50,207.21 L96.00,207.14 L96.50,207.08 L97.00,207.00 L97.50,206.93 L98.00,206.86 L98.50,206.78 L99.00,206.70 L99.50,206.61 L100.00,206.53 L100.50,206.44 L101.00,206.34 L101.50,206.25 L102.00,206.15 L102.50,206.04 L103.00,205.94 L103.50,205.82 L104.00,205.71 L104.50,205.59 L105.00,205.46 L105.50,205.33 L106.00,205.19 L106.50,205.04 L107.00,204.89 L107.50,204.73 L108.00,204.56 L108.50,204.39 L109.00,204.21 L109.50,204.01 L110.00,203.81 L110.50,203.60 L111.00,203.37 L111.50,203.13 L112.00,202.88 L112.50,202.62 L113.00,202.35 L113.50,202.05 L114.00,201.75 L114.50,201.42 L115.00,201.08 L115.50,200.72 L116.00,200.34 L116.50,199.94 L117.00,199.52 L117.50,199.08 L118.00,198.61 L118.50,198.12 L119.00,197.60 L119.50,197.06 L120.00,196.48 L120.50,195.88 L121.00,195.25 L121.50,194.59 L122.00,193.90 L122.50,193.17 L123.00,192.41 L123.50,191.61 L124.00,190.78 L124.50,189.91 L125.00,189.00 L125.50,188.06 L126.00,187.07 L126.50,186.05 L127.00,184.99 L127.50,183.88 L128.00,182.74 L128.50,181.55 L129.00,180.32 L129.50,179.06 L130.00,177.75 L130.50,176.40 L131.00,175.01 L131.50,173.58 L132.00,172.11 L132.50,170.61 L133.00,169.07 L133.50,167.49 L134.00,165.88 L134.50,164.24 L135.00,162.57 L135.50,160.88 L136.00,159.16 L136.50,157.42 L137.00,155.66 L137.50,153.89 L138.00,152.11 L138.50,150.33 L139.00,148.54 L139.50,146.76 L140.00,144.99 L140.50,143.23 L141.00,141.50 L141.50,139.80 L142.00,138.13 L142.50,136.51 L143.00,134.94 L143.50,133.42 L144.00,131.98 L144.50,130.61 L145.00,129.33 L145.50,128.13 L146.00,127.04 L146.50,126.06 L147.00,125.19 L147.50,124.44 L148.00,123.82 L148.50,123.33 L149.00,122.98 L149.50,122.77 L150.00,122.70 L150.50,122.77 L151.00,122.98 L151.50,123.33 L152.00,123.82 L152.50,124.44 L153.00,125.19 L153.50,126.06 L154.00,127.04 L154.50,128.13 L155.00,129.33 L155.50,130.61 L156.00,131.98 L156.50,133.42 L157.00,134.94 L157.50,136.51 L158.00,138.13 L158.50,139.80 L159.00,141.50 L159.50,143.23 L160.00,144.99 L160.50,146.76 L161.00,148.54 L161.50,150.33 L162.00,152.11 L162.50,153.89 L163.00,155.66 L163.50,157.42 L164.00,159.16 L164.50,160.88 L165.00,162.57 L165.50,164.24 L166.00,165.88 L166.50,167.49 L167.00,169.07 L167.50,170.61 L168.00,172.11 L168.50,173.58 L169.00,175.01 L169.50,176.40 L170.00,177.75 L170.50,179.06 L171.00,180.32 L171.50,181.55 L172.00,182.74 L172.50,183.88 L173.00,184.99 L173.50,186.05 L174.00,187.07 L174.50,188.06 L175.00,189.00 L175.50,189.91 L176.00,190.78 L176.50,191.61 L177.00,192.41 L177.50,193.17 L178.00,193.90 L178.50,194.59 L179.00,195.25 L179.50,195.88 L180.00,196.48 L180.50,197.06 L181.00,197.60 L181.50,198.12 L182.00,198.61 L182.50,199.08 L183.00,199.52 L183.50,199.94 L184.00,200.34 L184.50,200.72 L185.00,201.08 L185.50,201.42 L186.00,201.75 L186.50,202.05 L187.00,202.35 L187.50,202.62 L188.00,202.88 L188.50,203.13 L189.00,203.37 L189.50,203.60 L190.00,203.81 L190.50,204.01 L191.00,204.21 L191.50,204.39 L192.00,204.56 L192.50,204.73 L193.00,204.89 L193.50,205.04 L194.00,205.19 L194.50,205.33 L195.00,205.46 L195.50,205.59 L196.00,205.71 L196.50,205.82 L197.00,205.94 L197.50,206.04 L198.00,206.15 L198.50,206.25 L199.00,206.34 L199.50,206.44 L200.00,206.53 L200.50,206.61 L201.00,206.70 L201.50,206.78 L202.00,206.86 L202.50,206.93 L203.00,207.00 L203.50,207.08 L204.00,207.14 L204.50,207.21 L205.00,207.28 L205.50,207.34 L206.00,207.40 L206.50,207.46 L207.00,207.52 L207.50,207.58 L208.00,207.63 L208.50,207.69 L209.00,207.74 L209.50,207.79 L210.00,207.84 L210.50,207.89 L211.00,207.94 L211.50,207.98 L212.00,208.03 L212.50,208.07 L213.00,208.12 L213.50,208.16 L214.00,208.20 L214.50,208.24 L215.00,208.28 L215.50,208.32 L216.00,208.36 L216.50,208.40 L217.00,208.43 L217.50,208.47 L218.00,208.50 L218.50,208.54 L219.00,208.57 L219.50,208.61 L220.00,208.64 L220.50,208.67 L221.00,208.70 L221.50,208.73 L222.00,208.76 L222.50,208.79 L223.00,208.82 L223.50,208.85 L224.00,208.88 L224.50,208.90 L225.00,208.93 L225.50,208.96 L226.00,208.98 L226.50,209.01 L227.00,209.03 L227.50,209.05 L228.00,209.08 L228.50,209.10 L229.00,209.13 L229.50,209.15 L230.00,209.17 L230.50,209.19 L231.00,209.21 L231.50,209.23 L232.00,209.25 L232.50,209.27 L233.00,209.29 L233.50,209.31 L234.00,209.33 L234.50,209.35 L235.00,209.37 L235.50,209.39 L236.00,209.41 L236.50,209.43 L237.00,209.44 L237.50,209.46 L238.00,209.48 L238.50,209.49 L239.00,209.51 L239.50,209.53 L240.00,209.54 L240.50,209.56 L241.00,209.57 L241.50,209.59 L242.00,209.60 L242.50,209.62 L243.00,209.63 L243.50,209.65 L244.00,209.66 L244.50,209.67 L245.00,209.69 L245.50,209.70 L246.00,209.71 L246.50,209.73 L247.00,209.74 L247.50,209.75 L248.00,209.76 L248.50,209.78 L249.00,209.79 L249.50,209.80 L250.00,209.81 L250.50,209.82 L251.00,209.83 L251.50,209.85 L252.00,209.86 L252.50,209.87 L253.00,209.88 L253.50,209.89 L254.00,209.90 L254.50,209.91 L255.00,209.92 L255.50,209.93 L256.00,209.94 L256.50,209.95 L257.00,209.96 L257.50,209.97 L258.00,209.98 L258.50,209.99 L259.00,210.00 L259.50,210.00 L260.00,210.01 L260.50,210.02 L261.00,210.03 L261.50,210.04 L262.00,210.05 L262.50,210.06 L263.00,210.06 L263.50,210.07 L264.00,210.08 L264.50,210.09 L265.00,210.10 L265.50,210.10 L266.00,210.11 L266.50,210.12 L267.00,210.13 L267.50,210.13 L268.00,210.14 L268.50,210.15 L269.00,210.15 L269.50,210.16 L270.00,210.17 L270.50,210.17 L271.00,210.18 L271.50,210.19 L272.00,210.19 L272.50,210.20 L273.00,210.21 L273.50,210.21 L274.00,210.22 L274.50,210.23 L275.00,210.23 L275.50,210.24 L276.00,210.24 L276.50,210.25 L277.00,210.26 L277.50,210.26 L278.00,210.27 L278.50,210.27 L279.00,210.28 L279.50,210.28 L280.00,210.29 L280.50,210.29 L281.00,210.30 L281.50,210.31 L282.00,210.31 L282.50,210.32 L283.00,210.32 L283.50,210.33 L284.00,210.33 L284.50,210.34 L285.00,210.34 L285.50,210.35 L286.00,210.35 L286.50,210.35 L287.00,210.36 L287.50,210.36 L288.00,210.37 L288.50,210.37 L289.00,210.38 L289.50,210.38 L290.00,210.39 L290.50,210.39 L291.00,210.39 L291.50,210.40 L292.00,210.40 L292.50,210.41 L293.00,210.41 L293.50,210.42 L294.00,210.42 L294.50,210.42 L295.00,210.43 L295.50,210.43 L296.00,210.43 L296.50,210.44 L297.00,210.44 L297.50,210.45 L298.00,210.45 L298.50,210.45 L299.00,210.46 L299.50,210.46 L300.00,210.46 L300.50,210.47 L301.00,210.47 L301.50,210.47 L302.00,210.48 L302.50,210.48 L303.00,210.48 L303.50,210.49 L304.00,210.49 L304.50,210.49 L305.00,210.50 L305.50,210.50 L306.00,210.50 L306.50,210.51 L307.00,210.51 L307.50,210.51 L308.00,210.52 L308.50,210.52 L309.00,210.52 L309.50,210.53 L310.00,210.53 L310.50,210.53 L311.00,210.53 L311.50,210.54 L312.00,210.54 L312.50,210.54 L313.00,210.55 L313.50,210.55 L314.00,210.55 L314.50,210.55 L315.00,210.56 L315.50,210.56 L316.00,210.56 L316.50,210.56 L317.00,210.57 L317.50,210.57 L318.00,210.57 L318.50,210.57 L319.00,210.58 L319.50,210.58 L320.00,210.58 L320.50,210.58 L321.00,210.59 L321.50,210.59 L322.00,210.59 L322.50,210.59 L323.00,210.60 L323.50,210.60 L324.00,210.60 L324.50,210.60 L325.00,210.61 L325.50,210.61 L325.5,211.00 Z" fill="#ffff00" fill-opacity="0.5" stroke="none"/>
<path d="M42.50,209.97 L43.00,209.96 L43.50,209.95 L44.00,209.94 L44.50,209.93 L45.00,209.92 L45.50,209.91 L46.00,209.90 L46.50,209.89 L47.00,209.88 L47.50,209.87 L48.00,209.86 L48.50,209.85 L49.00,209.83 L49.50,209.82 L50.00,209.81 L50.50,209.80 L51.00,209.79 L51.50,209.78 L52.00,209.76 L52.50,209.75 L53.00,209.74 L53.50,209.73 L54.00,209.71 L54.50,209.70 L55.00,209.69 L55.50,209.67 L56.00,209.66 L56.50,209.65 L57.00,209.63 L57.50,209.62 L58.00,209.60 L58.50,209.59 L59.00,209.57 L59.50,209.56 L60.00,209.54 L60.50,209.53 L61.00,209.51 L61.50,209.49 L62.00,209.48 L62.50,209.46 L63.00,209.44 L63.50,209.43 L64.00,209.41 L64.50,209.39 L65.00,209.37 L65.50,209.35 L66.00,209.33 L66.50,209.31 L67.00,209.29 L67.50,209.27 L68.00,209.25 L68.50,209.23 L69.00,209.21 L69.50,209.19 L70.00,209.17 L70.50,209.15 L71.00,209.13 L71.50,209.10 L72.00,209.08 L72.50,209.05 L73.00,209.03 L73.50,209.01 L74.00,208.98 L74.50,208.96 L75.00,208.93 L75.50,208.90 L76.00,208.88 L76.50,208.85 L77.00,208.82 L77.50,208.79 L78.00,208.76 L78.50,208.73 L79.00,208.70 L79.50,208.67 L80.00,208.64 L80.50,208.61 L81.00,208.57 L81.50,208.54 L82.00,208.50 L82.50,208.47 L83.00,208.43 L83.50,208.40 L84.00,208.36 L84.50,208.32 L85.00,208.28 L85.50,208.24 L86.00,208.20 L86.50,208.16 L87.00,208.12 L87.50,208.07 L88.00,208.03 L88.50,207.98 L89.00,207.94 L89.50,207.89 L90.00,207.84 L90.50,207.79 L91.00,207.74 L91.50,207.69 L92.00,207.63 L92.50,207.58 L93.00,207.52 L93.50,207.46 L94.00,207.40 L94.50,207.34 L95.00,207.28 L95.50,207.21 L96.00,207.14 L96.50,207.08 L97.00,207.00 L97.50,206.93 L98.00,206.86 L98.50,206.78 L99.00,206.70 L99.50,206.61 L100.00,206.53 L100.50,206.44 L101.00,206.34 L101.50,206.25 L102.00,206.15 L102.50,206.04 L103.00,205.94 L103.50,205.82 L104.00,205.71 L104.50,205.59 L105.00,205.46 L105.50,205.33 L106.00,205.19 L106.50,205.04 L107.00,204.89 L107.50,204.73 L108.00,204.56 L108.50,204.39 L109.00,204.21 L109.50,204.01 L110.00,203.81 L110.50,203.60 L111.00,203.37 L111.50,203.13 L112.00,202.88 L112.50,202.62 L113.00,202.35 L113.50,202.05 L114.00,201.75 L114.50,201.42 L115.00,201.08 L115.50,200.72 L116.00,200.34 L116.50,199.94 L117.00,199.52 L117.50,199.08 L118.00,198.61 L118.50,198.12 L119.00,197.60 L119.50,197.06 L120.00,196.48 L120.50,195.88 L121.00,195.25 L121.50,194.59 L122.00,193.90 L122.50,193.17 L123.00,192.41 L123.50,191.61 L124.00,190.78 L124.50,189.91 L125.00,189.00 L125.50,188.06 L126.00,187.07 L126.50,186.05 L127.00,184.99 L127.50,183.88 L128.00,182.74 L128.50,181.55 L129.00,180.32 L129.50,179.06 L130.00,177.75 L130.50,176.40 L131.00,175.01 L131.50,173.58 L132.00,172.11 L132.50,170.61 L133.00,169.07 L133.50,167.49 L134.00,165.88 L134.50,164.24 L135.00,162.57 L135.50,160.88 L136.00,159.16 L136.50,157.42 L137.00,155.66 L137.50,153.89 L138.00,152.11 L138.50,150.33 L139.00,148.54 L139.50,146.76 L140.00,144.99 L140.50,143.23 L141.00,141.50 L141.50,139.80 L142.00,138.13 L142.50,136.51 L143.00,134.94 L143.50,133.42 L144.00,131.98 L144.50,130.61 L145.00,129.33 L145.50,128.13 L146.00,127.04 L146.50,126.06 L147.00,125.19 L147.50,124.44 L148.00,123.82 L148.50,123.33 L149.00,122.98 L149.50,122.77 L150.00,122.70 L150.50,122.77 L151.00,122.98 L151.50,123.33 L152.00,123.82 L152.50,124.44 L153.00,125.19 L153.50,126.06 L154.00,127.04 L154.50,128.13 L155.00,129.33 L155.50,130.61 L156.00,131.98 L156.50,133.42 L157.00,134.94 L157.50,136.51 L158.00,138.13 L158.50,139.80 L159.00,141.50 L159.50,143.23 L160.00,144.99 L160.50,146.76 L161.00,148.54 L161.50,150.33 L162.00,152.11 L162.50,153.89 L163.00,155.66 L163.50,157.42 L164.00,159.16 L164.50,160.88 L165.00,162.57 L165.50,164.24 L166.00,165.88 L166.50,167.49 L167.00,169.07 L167.50,170.61 L168.00,172.11 L168.50,173.58 L169.00,175.01 L169.50,176.40 L170.00,177.75 L170.50,179.06 L171.00,180.32 L171.50,181.55 L172.00,182.74 L172.50,183.88 L173.00,184.99 L173.50,186.05 L174.00,187.07 L174.50,188.06 L175.00,189.00 L175.50,189.91 L176.00,190.78 L176.50,191.61 L177.00,192.41 L177.50,193.17 L178.00,193.90 L178.50,194.59 L179.00,195.25 L179.50,195.88 L180.00,196.48 L180.50,197.06 L181.00,197.60 L181.50,198.12 L182.00,198.61 L182.50,199.08 L183.00,199.52 L183.50,199.94 L184.00,200.34 L184.50,200.72 L185.00,201.08 L185.50,201.42 L186.00,201.75 L186.50,202.05 L187.00,202.35 L187.50,202.62 L188.00,202.88 L188.50,203.13 L189.00,203.37 L189.50,203.60 L190.00,203.81 L190.50,204.01 L191.00,204.21 L191.50,204.39 L192.00,204.56 L192.50,204.73 L193.00,204.89 L193.50,205.04 L194.00,205.19 L194.50,205.33 L195.00,205.46 L195.50,205.59 L196.00,205.71 L196.50,205.82 L197.00,205.94 L197.50,206.04 L198.00,206.15 L198.50,206.25 L199.00,206.34 L199.50,206.44 L200.00,206.53 L200.50,206.61 L201.00,206.70 L201.50,206.78 L202.00,206.86 L202.50,206.93 L203.00,207.00 L203.50,207.08 L204.00,207.14 L204.50,207.21 L205.00,207.28 L205.50,207.34 L206.00,207.40 L206.50,207.46 L207.00,207.52 L207.50,207.58 L208.00,207.63 L208.50,207.69 L209.00,207.74 L209.50,207.79 L210.00,207.84 L210.50,207.89 L211.00,207.94 L211.50,207.98 L212.00,208.03 L212.50,208.07 L213.00,208.12 L213.50,208.16 L214.00,208.20 L214.50,208.24 L215.00,208.28 L215.50,208.32 L216.00,208.36 L216.50,208.40 L217.00,208.43 L217.50,208.47 L218.00,208.50 L218.50,208.54 L219.00,208.57 L219.50,208.61 L220.00,208.64 L220.50,208.67 L221.00,208.70 L221.50,208.73 L222.00,208.76 L222.50,208.79 L223.00,208.82 L223.50,208.85 L224.00,208.88 L224.50,208.90 L225.00,208.93 L225.50,208.96 L226.00,208.98 L226.50,209.01 L227.00,209.03 L227.50,209.05 L228.00,209.08 L228.50,209.10 L229.00,209.13 L229.50,209.15 L230.00,209.17 L230.50,209.19 L231.00,209.21 L231.50,209.23 L232.00,209.25 L232.50,209.27 L233.00,209.29 L233.50,209.31 L234.00,209.33 L234.50,209.35 L235.00,209.37 L235.50,209.39 L236.00,209.41 L236.50,209.43 L237.00,209.44 L237.50,209.46 L238.00,209.48 L238.50,209.49 L239.00,209.51 L239.50,209.53 L240.00,209.54 L240.50,209.56 L241.00,209.57 L241.50,209.59 L242.00,209.60 L242.50,209.62 L243.00,209.63 L243.50,209.65 L244.00,209.66 L244.50,209.67 L245.00,209.69 L245.50,209.70 L246.00,209.71 L246.50,209.73 L247.00,209.74 L247.50,209.75 L248.00,209.76 L248.50,209.78 L249.00,209.79 L249.50,209.80 L250.00,209.81 L250.50,209.82 L251.00,209.83 L251.50,209.85 L252.00,209.86 L252.50,209.87 L253.00,209.88 L253.50,209.89 L254.00,209.90 L254.50,209.91 L255.00,209.92 L255.50,209.93 L256.00,209.94 L256.50,209.95 L257.00,209.96 L257.50,209.97 L258.00,209.98 L258.50,209.99 L259.00,210.00 L259.50,210.00 L260.00,210.01 L260.50,210.02 L261.00,210.03 L261.50,210.04 L262.00,210.05 L262.50,210.06 L263.00,210.06 L263.50,210.07 L264.00,210.08 L264.50,210.09 L265.00,210.10 L265.50,210.10 L266.00,210.11 L266.50,210.12 L267.00,210.13 L267.50,210.13 L268.00,210.14 L268.50,210.15 L269.00,210.15 L269.50,210.16 L270.00,210.17 L270.50,210.17 L271.00,210.18 L271.50,210.19 L272.00,210.19 L272.50,210.20 L273.00,210.21 L273.50,210.21 L274.00,210.22 L274.50,210.23 L275.00,210.23 L275.50,210.24 L276.00,210.24 L276.50,210.25 L277.00,210.26 L277.50,210.26 L278.00,210.27 L278.50,210.27 L279.00,210.28 L279.50,210.28 L280.00,210.29 L280.50,210.29 L281.00,210.30 L281.50,210.31 L282.00,210.31 L282.50,210.32 L283.00,210.32 L283.50,210.33 L284.00,210.33 L284.50,210.34 L285.00,210.34 L285.50,210.35 L286.00,210.35 L286.50,210.35 L287.00,210.36 L287.50,210.36 L288.00,210.37 L288.50,210.37 L289.00,210.38 L289.50,210.38 L290.00,210.39 L290.50,210.39 L291.00,210.39 L291.50,210.40 L292.00,210.40 L292.50,210.41 L293.00,210.41 L293.50,210.42 L294.00,210.42 L294.50,210.42 L295.00,210.43 L295.50,210.43 L296.00,210.43 L296.50,210.44 L297.00,210.44 L297.50,210.45 L298.00,210.45 L298.50,210.45 L299.00,210.46 L299.50,210.46 L300.00,210.46 L300.50,210.47 L301.00,210.47 L301.50,210.47 L302.00,210.48 L302.50,210.48 L303.00,210.48 L303.50,210.49 L304.00,210.49 L304.50,210.49 L305.00,210.50 L305.50,210.50 L306.00,210.50 L306.50,210.51 L307.00,210.51 L307.50,210.51 L308.00,210.52 L308.50,210.52 L309.00,210.52 L309.50,210.53 L310.00,210.53 L310.50,210.53 L311.00,210.53 L311.50,210.54 L312.00,210.54 L312.50,210.54 L313.00,210.55 L313.50,210.55 L314.00,210.55 L314.50,210.55 L315.00,210.56 L315.50,210.56 L316.00,210.56 L316.50,210.56 L317.00,210.57 L317.50,210.57 L318.00,210.57 L318.50,210.57 L319.00,210.58 L319.50,210.58 L320.00,210.58 L320.50,210.58 L321.00,210.59 L321.50,210.59 L322.00,210.59 L322.50,210.59 L323.00,210.60 L323.50,210.60 L324.00,210.60 L324.50,210.60 L325.00,210.61 L325.50,210.61"/>
</g>
<path d="M103.32,190.96V195.98M102.22,190.96H104.42M102.22,195.98H104.42 M104.94,192.66V197.78M103.84,192.66H106.04M103.84,197.78H106.04 M106.52,187.50V192.74M105.42,187.50H107.62M105.42,192.74H107.62 M108.13,182.76V188.11M107.03,182.76H109.23M107.03,188.11H109.23 M109.86,185.95V191.43M108.76,185.95H110.96M108.76,191.43H110.96 M111.55,176.83V182.44M110.45,176.83H112.65M110.45,182.44H112.65 M113.13,178.41V184.14M112.03,178.41H114.23M112.03,184.14H114.23 M114.80,176.69V182.56M113.70,176.69H115.90M113.70,182.56H115.90 M116.52,168.22V174.24M115.42,168.22H117.62M115.42,174.24H117.62 M118.34,172.69V178.85M117.24,172.69H119.44M117.24,178.85H119.44 M119.89,165.77V172.05M118.79,165.77H120.99M118.79,172.05H120.99 M121.43,162.87V169.27M120.33,162.87H122.53M120.33,169.27H122.53 M123.09,159.65V166.18M121.99,159.65H124.19M121.99,166.18H124.19 M124.82,152.09V158.74M123.72,152.09H125.92M123.72,158.74H125.92 M126.38,149.16V155.92M125.28,149.16H127.48M125.28,155.92H127.48 M128.04,148.07V154.94M126.94,148.07H129.14M126.94,154.94H129.14 M129.83,146.04V153.02M128.73,146.04H130.93M128.73,153.02H130.93 M131.31,142.09V149.18M130.21,142.09H132.41M130.21,149.18H132.41 M133.13,134.96V142.16M132.03,134.96H134.23M132.03,142.16H134.23 M134.74,127.61V134.93M133.64,127.61H135.84M133.64,134.93H135.84 M136.54,129.97V137.40M135.44,129.97H137.64M135.44,137.40H137.64 M138.22,123.90V131.45M137.12,123.90H139.32M137.12,131.45H139.32 M139.86,117.48V125.15M138.76,117.48H140.96M138.76,125.15H140.96 M141.52,114.31V122.08M140.42,114.31H142.62M140.42,122.08H142.62 M143.05,110.31V118.17M141.95,110.31H144.15M141.95,118.17H144.15 M144.83,107.59V115.55M143.73,107.59H145.93M143.73,115.55H145.93 M146.36,102.99V111.01M145.26,102.99H147.46M145.26,111.01H147.46 M148.11,103.82V111.86M147.01,103.82H149.21M147.01,111.86H149.21 M149.67,102.78V110.82M148.57,102.78H150.77M148.57,110.82H150.77 M151.38,103.75V111.77M150.28,103.75H152.48M150.28,111.77H152.48 M152.88,103.52V111.48M151.78,103.52H153.98M151.78,111.48H153.98 M154.62,111.52V119.38M153.52,111.52H155.72M153.52,119.38H155.72 M156.57,114.67V122.39M155.47,114.67H157.67M155.47,122.39H157.67 M157.93,119.69V127.30M156.83,119.69H159.03M156.83,127.30H159.03 M159.78,122.62V130.05M158.68,122.62H160.88M158.68,130.05H160.88 M161.42,136.10V143.37M160.32,136.10H162.52M160.32,143.37H162.52 M163.11,135.58V142.68M162.01,135.58H164.21M162.01,142.68H164.21 M164.67,145.75V152.70M163.57,145.75H165.77M163.57,152.70H165.77 M166.38,150.22V157.01M165.28,150.22H167.48M165.28,157.01H167.48 M167.83,157.15V163.80M166.73,157.15H168.93M166.73,163.80H168.93 M169.49,160.23V166.75M168.39,160.23H170.59M168.39,166.75H170.59 M171.20,163.84V170.24M170.10,163.84H172.30M170.10,170.24H172.30 M172.84,164.82V171.13M171.74,164.82H173.94M171.74,171.13H173.94 M174.48,163.80V170.05M173.38,163.80H175.58M173.38,170.05H175.58 M176.15,166.38V172.59M175.05,166.38H177.25M175.05,172.59H177.25 M177.98,167.23V173.44M176.88,167.23H179.08M176.88,173.44H179.08 M179.50,161.34V167.59M178.40,161.34H180.60M178.40,167.59H180.60 M181.46,164.84V171.18M180.36,164.84H182.56M180.36,171.18H182.56 M183.01,160.06V166.50M181.91,160.06H184.11M181.91,166.50H184.11 M184.62,166.33V172.91M183.52,166.33H185.72M183.52,172.91H185.72 M186.34,155.68V162.44M185.24,155.68H187.44M185.24,162.44H187.44 M187.83,147.19V154.14M186.73,147.19H188.93M186.73,154.14H188.93 M189.75,135.93V143.13M188.65,135.93H190.85M188.65,143.13H190.85 M191.38,126.56V134.00M190.28,126.56H192.48M190.28,134.00H192.48 M192.99,119.10V126.78M191.89,119.10H194.09M191.89,126.78H194.09 M194.55,110.15V118.06M193.45,110.15H195.65M193.45,118.06H195.65 M196.36,98.83V107.01M195.26,98.83H197.46M195.26,107.01H197.46 M197.98,90.23V98.64M196.88,90.23H199.08M196.88,98.64H199.08 M199.60,80.01V88.63M198.50,80.01H200.70M198.50,88.63H200.70 M201.37,66.70V75.53M200.27,66.70H202.47M200.27,75.53H202.47 M202.91,66.89V75.87M201.81,66.89H204.01M201.81,75.87H204.01 M204.47,43.26V52.34M203.37,43.26H205.57M203.37,52.34H205.57 M206.20,54.71V63.86M205.10,54.71H207.30M205.10,63.86H207.30 M207.72,42.92V52.08M206.62,42.92H208.82M206.62,52.08H208.82 M209.38,56.00V65.11M208.28,56.00H210.48M208.28,65.11H210.48 M211.25,62.59V71.58M210.15,62.59H212.35M210.15,71.58H212.35 M212.93,70.02V78.85M211.83,70.02H214.03M211.83,78.85H214.03 M214.67,82.57V91.19M213.57,82.57H215.77M213.57,91.19H215.77 M216.28,83.47V91.86M215.18,83.47H217.38M215.18,91.86H217.38 M217.82,100.46V108.63M216.72,100.46H218.92M216.72,108.63H218.92 M219.30,109.03V116.97M218.20,109.03H220.40M218.20,116.97H220.40 M221.12,123.51V131.14M220.02,123.51H222.22M220.02,131.14H222.22 M222.95,126.75V134.08M221.85,126.75H224.05M221.85,134.08H224.05 M224.56,138.55V145.62M223.46,138.55H225.66M223.46,145.62H225.66 M226.09,142.81V149.63M224.99,142.81H227.19M224.99,149.63H227.19 M227.74,152.20V158.76M226.64,152.20H228.84M226.64,158.76H228.84 M229.31,163.88V170.21M228.21,163.88H230.41M228.21,170.21H230.41 M230.95,166.53V172.63M229.85,166.53H232.05M229.85,172.63H232.05 M232.57,169.48V175.37M231.47,169.48H233.67M231.47,175.37H233.67 M234.56,179.03V184.69M233.46,179.03H235.66M233.46,184.69H235.66 M236.12,183.82V189.31M235.02,183.82H237.22M235.02,189.31H237.22 M237.58,188.43V193.78M236.48,188.43H238.68M236.48,193.78H238.68 M239.35,188.90V194.09M238.25,188.90H240.45M238.25,194.09H240.45 M240.86,194.91V199.99M239.76,194.91H241.96M239.76,199.99H241.96 M242.58,190.00V194.96M241.48,190.00H243.68M241.48,194.96H243.68 M244.45,194.16V199.02M243.35,194.16H245.55M243.35,199.02H245.55 M246.08,193.68V198.45M244.98,193.68H247.18M244.98,198.45H247.18 M247.67,197.20V201.90M246.57,197.20H248.77M246.57,201.90H248.77 M249.25,194.51V199.14M248.15,194.51H250.35M248.15,199.14H250.35 M251.06,200.36V204.93M249.96,200.36H252.16M249.96,204.93H252.16 M252.84,194.62V199.13M251.74,194.62H253.94M251.74,199.13H253.94 M254.29,198.02V202.49M253.19,198.02H255.39M253.19,202.49H255.39 M255.81,200.18V204.61M254.71,200.18H256.91M254.71,204.61H256.91 M202.70,55.00V62.00M201.60,55.00H203.80M201.60,62.00H203.80 M210.90,58.30V65.30M209.80,58.30H212.00M209.80,65.30H212.00" stroke="#777" stroke-width="0.7" fill="none"/>
<g fill="#f2f2f2" fill-opacity="0.85" stroke="#4a4a4a" stroke-width="0.9"><circle cx="103.32" cy="193.47" r="2.0"/><circle cx="104.94" cy="195.22" r="2.0"/><circle cx="106.52" cy="190.12" r="2.0"/><circle cx="108.13" cy="185.44" r="2.0"/><circle cx="109.86" cy="188.69" r="2.0"/><circle cx="111.55" cy="179.64" r="2.0"/><circle cx="113.13" cy="181.28" r="2.0"/><circle cx="114.80" cy="179.63" r="2.0"/><circle cx="116.52" cy="171.23" r="2.0"/><circle cx="118.34" cy="175.77" r="2.0"/><circle cx="119.89" cy="168.91" r="2.0"/><circle cx="121.43" cy="166.07" r="2.0"/><circle cx="123.09" cy="162.91" r="2.0"/><circle cx="124.82" cy="155.41" r="2.0"/><circle cx="126.38" cy="152.54" r="2.0"/><circle cx="128.04" cy="151.51" r="2.0"/><circle cx="129.83" cy="149.53" r="2.0"/><circle cx="131.31" cy="145.64" r="2.0"/><circle cx="133.13" cy="138.56" r="2.0"/><circle cx="134.74" cy="131.27" r="2.0"/><circle cx="136.54" cy="133.68" r="2.0"/><circle cx="138.22" cy="127.68" r="2.0"/><circle cx="139.86" cy="121.31" r="2.0"/><circle cx="141.52" cy="118.20" r="2.0"/><circle cx="143.05" cy="114.24" r="2.0"/><circle cx="144.83" cy="111.57" r="2.0"/><circle cx="146.36" cy="107.00" r="2.0"/><circle cx="148.11" cy="107.84" r="2.0"/><circle cx="149.67" cy="106.80" r="2.0"/><circle cx="151.38" cy="107.76" r="2.0"/><circle cx="152.88" cy="107.50" r="2.0"/><circle cx="154.62" cy="115.45" r="2.0"/><circle cx="156.57" cy="118.53" r="2.0"/><circle cx="157.93" cy="123.49" r="2.0"/><circle cx="159.78" cy="126.34" r="2.0"/><circle cx="161.42" cy="139.74" r="2.0"/><circle cx="163.11" cy="139.13" r="2.0"/><circle cx="164.67" cy="149.23" r="2.0"/><circle cx="166.38" cy="153.61" r="2.0"/><circle cx="167.83" cy="160.47" r="2.0"/><circle cx="169.49" cy="163.49" r="2.0"/><circle cx="171.20" cy="167.04" r="2.0"/><circle cx="172.84" cy="167.98" r="2.0"/><circle cx="174.48" cy="166.93" r="2.0"/><circle cx="176.15" cy="169.49" r="2.0"/><circle cx="177.98" cy="170.33" r="2.0"/><circle cx="179.50" cy="164.47" r="2.0"/><circle cx="181.46" cy="168.01" r="2.0"/><circle cx="183.01" cy="163.28" r="2.0"/><circle cx="184.62" cy="169.62" r="2.0"/><circle cx="186.34" cy="159.06" r="2.0"/><circle cx="187.83" cy="150.66" r="2.0"/><circle cx="189.75" cy="139.53" r="2.0"/><circle cx="191.38" cy="130.28" r="2.0"/><circle cx="192.99" cy="122.94" r="2.0"/><circle cx="194.55" cy="114.10" r="2.0"/><circle cx="196.36" cy="102.92" r="2.0"/><circle cx="197.98" cy="94.44" r="2.0"/><circle cx="199.60" cy="84.32" r="2.0"/><circle cx="201.37" cy="71.12" r="2.0"/><circle cx="202.91" cy="71.38" r="2.0"/><circle cx="204.47" cy="47.80" r="2.0"/><circle cx="206.20" cy="59.28" r="2.0"/><circle cx="207.72" cy="47.50" r="2.0"/><circle cx="209.38" cy="60.55" r="2.0"/><circle cx="211.25" cy="67.09" r="2.0"/><circle cx="212.93" cy="74.44" r="2.0"/><circle cx="214.67" cy="86.88" r="2.0"/><circle cx="216.28" cy="87.67" r="2.0"/><circle cx="217.82" cy="104.55" r="2.0"/><circle cx="219.30" cy="113.00" r="2.0"/><circle cx="221.12" cy="127.33" r="2.0"/><circle cx="222.95" cy="130.41" r="2.0"/><circle cx="224.56" cy="142.09" r="2.0"/><circle cx="226.09" cy="146.22" r="2.0"/><circle cx="227.74" cy="155.48" r="2.0"/><circle cx="229.31" cy="167.04" r="2.0"/><circle cx="230.95" cy="169.58" r="2.0"/><circle cx="232.57" cy="172.42" r="2.0"/><circle cx="234.56" cy="181.86" r="2.0"/><circle cx="236.12" cy="186.57" r="2.0"/><circle cx="237.58" cy="191.10" r="2.0"/><circle cx="239.35" cy="191.49" r="2.0"/><circle cx="240.86" cy="197.45" r="2.0"/><circle cx="242.58" cy="192.48" r="2.0"/><circle cx="244.45" cy="196.59" r="2.0"/><circle cx="246.08" cy="196.07" r="2.0"/><circle cx="247.67" cy="199.55" r="2.0"/><circle cx="249.25" cy="196.83" r="2.0"/><circle cx="251.06" cy="202.64" r="2.0"/><circle cx="252.84" cy="196.88" r="2.0"/><circle cx="254.29" cy="200.25" r="2.0"/><circle cx="255.81" cy="202.39" r="2.0"/><circle cx="257.46" cy="203.54" r="2.0"/><circle cx="259.13" cy="204.99" r="2.0"/><circle cx="261.14" cy="203.24" r="2.0"/><circle cx="262.64" cy="204.16" r="2.0"/><circle cx="264.41" cy="204.82" r="2.0"/><circle cx="265.81" cy="205.32" r="2.0"/><circle cx="267.50" cy="205.90" r="2.0"/><circle cx="269.34" cy="204.60" r="2.0"/><circle cx="47.20" cy="207.50" r="2.0"/><circle cx="44.20" cy="213.30" r="2.0"/><circle cx="51.20" cy="213.30" r="2.0"/><circle cx="55.30" cy="213.30" r="2.0"/><circle cx="54.50" cy="208.90" r="2.0"/><circle cx="59.50" cy="206.70" r="2.0"/><circle cx="63.70" cy="206.70" r="2.0"/><circle cx="60.40" cy="210.40" r="2.0"/><circle cx="69.60" cy="203.40" r="2.0"/><circle cx="73.70" cy="205.60" r="2.0"/><circle cx="77.40" cy="207.10" r="2.0"/><circle cx="80.70" cy="203.40" r="2.0"/><circle cx="84.70" cy="202.50" r="2.0"/><circle cx="88.00" cy="205.30" r="2.0"/><circle cx="90.80" cy="203.40" r="2.0"/><circle cx="94.50" cy="197.90" r="2.0"/><circle cx="96.90" cy="198.30" r="2.0"/><circle cx="100.60" cy="195.70" r="2.0"/><circle cx="250.60" cy="190.00" r="2.0"/><circle cx="273.00" cy="206.40" r="2.0"/><circle cx="277.00" cy="209.00" r="2.0"/><circle cx="279.60" cy="207.70" r="2.0"/><circle cx="284.90" cy="206.40" r="2.0"/><circle cx="291.50" cy="203.20" r="2.0"/><circle cx="295.40" cy="205.00" r="2.0"/><circle cx="301.20" cy="206.40" r="2.0"/><circle cx="304.60" cy="207.70" r="2.0"/><circle cx="308.10" cy="205.90" r="2.0"/><circle cx="311.20" cy="206.40" r="2.0"/><circle cx="314.40" cy="203.70" r="2.0"/><circle cx="317.80" cy="206.40" r="2.0"/><circle cx="321.30" cy="208.50" r="2.0"/><circle cx="288.00" cy="209.50" r="2.0"/><circle cx="298.00" cy="209.80" r="2.0"/><circle cx="306.00" cy="210.20" r="2.0"/><circle cx="202.70" cy="58.50" r="2.0"/><circle cx="210.90" cy="61.80" r="2.0"/></g>
<path d="M42.50,208.79 L43.00,208.77 L43.50,208.75 L44.00,208.73 L44.50,208.71 L45.00,208.69 L45.50,208.67 L46.00,208.65 L46.50,208.63 L47.00,208.60 L47.50,208.58 L48.00,208.56 L48.50,208.54 L49.00,208.51 L49.50,208.49 L50.00,208.47 L50.50,208.44 L51.00,208.42 L51.50,208.39 L52.00,208.37 L52.50,208.34 L53.00,208.31 L53.50,208.29 L54.00,208.26 L54.50,208.23 L55.00,208.21 L55.50,208.18 L56.00,208.15 L56.50,208.12 L57.00,208.09 L57.50,208.06 L58.00,208.03 L58.50,208.00 L59.00,207.97 L59.50,207.93 L60.00,207.90 L60.50,207.87 L61.00,207.83 L61.50,207.80 L62.00,207.76 L62.50,207.73 L63.00,207.69 L63.50,207.65 L64.00,207.62 L64.50,207.58 L65.00,207.54 L65.50,207.50 L66.00,207.46 L66.50,207.42 L67.00,207.37 L67.50,207.33 L68.00,207.29 L68.50,207.24 L69.00,207.20 L69.50,207.15 L70.00,207.10 L70.50,207.05 L71.00,207.00 L71.50,206.95 L72.00,206.90 L72.50,206.85 L73.00,206.79 L73.50,206.74 L74.00,206.68 L74.50,206.62 L75.00,206.56 L75.50,206.50 L76.00,206.44 L76.50,206.38 L77.00,206.31 L77.50,206.24 L78.00,206.17 L78.50,206.10 L79.00,206.02 L79.50,205.95 L80.00,205.87 L80.50,205.79 L81.00,205.70 L81.50,205.62 L82.00,205.53 L82.50,205.43 L83.00,205.34 L83.50,205.24 L84.00,205.14 L84.50,205.03 L85.00,204.92 L85.50,204.80 L86.00,204.69 L86.50,204.56 L87.00,204.43 L87.50,204.30 L88.00,204.16 L88.50,204.01 L89.00,203.86 L89.50,203.70 L90.00,203.54 L90.50,203.37 L91.00,203.19 L91.50,203.00 L92.00,202.81 L92.50,202.60 L93.00,202.39 L93.50,202.17 L94.00,201.94 L94.50,201.70 L95.00,201.44 L95.50,201.18 L96.00,200.91 L96.50,200.62 L97.00,200.32 L97.50,200.01 L98.00,199.69 L98.50,199.35 L99.00,199.00 L99.50,198.64 L100.00,198.26 L100.50,197.86 L101.00,197.45 L101.50,197.02 L102.00,196.58 L102.50,196.12 L103.00,195.65 L103.50,195.15 L104.00,194.64 L104.50,194.11 L105.00,193.56 L105.50,193.00 L106.00,192.41 L106.50,191.81 L107.00,191.19 L107.50,190.55 L108.00,189.89 L108.50,189.21 L109.00,188.51 L109.50,187.79 L110.00,187.05 L110.50,186.29 L111.00,185.52 L111.50,184.72 L112.00,183.91 L112.50,183.08 L113.00,182.23 L113.50,181.36 L114.00,180.48 L114.50,179.57 L115.00,178.66 L115.50,177.73 L116.00,176.78 L116.50,175.82 L117.00,174.85 L117.50,173.87 L118.00,172.88 L118.50,171.88 L119.00,170.87 L119.50,169.86 L120.00,168.84 L120.50,167.82 L121.00,166.80 L121.50,165.78 L122.00,164.75 L122.50,163.73 L123.00,162.72 L123.50,161.70 L124.00,160.69 L124.50,159.69 L125.00,158.69 L125.50,157.69 L126.00,156.70 L126.50,155.71 L127.00,154.72 L127.50,153.73 L128.00,152.74 L128.50,151.75 L129.00,150.76 L129.50,149.75 L130.00,148.74 L130.50,147.72 L131.00,146.69 L131.50,145.65 L132.00,144.59 L132.50,143.51 L133.00,142.41 L133.50,141.30 L134.00,140.16 L134.50,139.01 L135.00,137.83 L135.50,136.64 L136.00,135.43 L136.50,134.20 L137.00,132.95 L137.50,131.69 L138.00,130.42 L138.50,129.13 L139.00,127.85 L139.50,126.56 L140.00,125.28 L140.50,124.00 L141.00,122.74 L141.50,121.50 L142.00,120.28 L142.50,119.10 L143.00,117.95 L143.50,116.86 L144.00,115.82 L144.50,114.84 L145.00,113.93 L145.50,113.10 L146.00,112.36 L146.50,111.71 L147.00,111.16 L147.50,110.72 L148.00,110.39 L148.50,110.18 L149.00,110.09 L149.50,110.13 L150.00,110.29 L150.50,110.58 L151.00,111.00 L151.50,111.54 L152.00,112.21 L152.50,112.99 L153.00,113.89 L153.50,114.89 L154.00,116.00 L154.50,117.20 L155.00,118.49 L155.50,119.86 L156.00,121.30 L156.50,122.80 L157.00,124.36 L157.50,125.96 L158.00,127.61 L158.50,129.28 L159.00,130.98 L159.50,132.70 L160.00,134.43 L160.50,136.16 L161.00,137.89 L161.50,139.61 L162.00,141.32 L162.50,143.01 L163.00,144.68 L163.50,146.32 L164.00,147.93 L164.50,149.50 L165.00,151.04 L165.50,152.54 L166.00,153.99 L166.50,155.39 L167.00,156.75 L167.50,158.05 L168.00,159.29 L168.50,160.48 L169.00,161.62 L169.50,162.69 L170.00,163.70 L170.50,164.64 L171.00,165.52 L171.50,166.33 L172.00,167.07 L172.50,167.74 L173.00,168.34 L173.50,168.87 L174.00,169.32 L174.50,169.70 L175.00,170.00 L175.50,170.23 L176.00,170.37 L176.50,170.44 L177.00,170.42 L177.50,170.32 L178.00,170.14 L178.50,169.87 L179.00,169.51 L179.50,169.07 L180.00,168.55 L180.50,167.93 L181.00,167.23 L181.50,166.43 L182.00,165.55 L182.50,164.57 L183.00,163.50 L183.50,162.34 L184.00,161.09 L184.50,159.74 L185.00,158.31 L185.50,156.78 L186.00,155.15 L186.50,153.44 L187.00,151.63 L187.50,149.74 L188.00,147.75 L188.50,145.68 L189.00,143.52 L189.50,141.28 L190.00,138.96 L190.50,136.56 L191.00,134.08 L191.50,131.54 L192.00,128.92 L192.50,126.24 L193.00,123.50 L193.50,120.71 L194.00,117.87 L194.50,114.98 L195.00,112.07 L195.50,109.12 L196.00,106.16 L196.50,103.19 L197.00,100.22 L197.50,97.26 L198.00,94.32 L198.50,91.41 L199.00,88.55 L199.50,85.75 L200.00,83.02 L200.50,80.38 L201.00,77.84 L201.50,75.42 L202.00,73.13 L202.50,70.99 L203.00,69.02 L203.50,67.23 L204.00,65.62 L204.50,64.23 L205.00,63.05 L205.50,62.11 L206.00,61.40 L206.50,60.93 L207.00,60.72 L207.50,60.76 L208.00,61.05 L208.50,61.59 L209.00,62.37 L209.50,63.40 L210.00,64.66 L210.50,66.14 L211.00,67.83 L211.50,69.72 L212.00,71.79 L212.50,74.03 L213.00,76.42 L213.50,78.95 L214.00,81.61 L214.50,84.37 L215.00,87.22 L215.50,90.16 L216.00,93.15 L216.50,96.20 L217.00,99.29 L217.50,102.40 L218.00,105.53 L218.50,108.67 L219.00,111.81 L219.50,114.93 L220.00,118.03 L220.50,121.10 L221.00,124.14 L221.50,127.14 L222.00,130.09 L222.50,132.99 L223.00,135.84 L223.50,138.63 L224.00,141.35 L224.50,144.01 L225.00,146.61 L225.50,149.13 L226.00,151.58 L226.50,153.96 L227.00,156.26 L227.50,158.49 L228.00,160.64 L228.50,162.72 L229.00,164.73 L229.50,166.65 L230.00,168.51 L230.50,170.29 L231.00,172.00 L231.50,173.63 L232.00,175.20 L232.50,176.70 L233.00,178.13 L233.50,179.50 L234.00,180.80 L234.50,182.04 L235.00,183.22 L235.50,184.35 L236.00,185.42 L236.50,186.43 L237.00,187.40 L237.50,188.31 L238.00,189.18 L238.50,190.00 L239.00,190.78 L239.50,191.52 L240.00,192.22 L240.50,192.88 L241.00,193.51 L241.50,194.10 L242.00,194.66 L242.50,195.19 L243.00,195.69 L243.50,196.17 L244.00,196.62 L244.50,197.05 L245.00,197.46 L245.50,197.84 L246.00,198.21 L246.50,198.55 L247.00,198.88 L247.50,199.19 L248.00,199.49 L248.50,199.78 L249.00,200.05 L249.50,200.31 L250.00,200.55 L250.50,200.79 L251.00,201.01 L251.50,201.23 L252.00,201.44 L252.50,201.63 L253.00,201.82 L253.50,202.01 L254.00,202.18 L254.50,202.35 L255.00,202.52 L255.50,202.68 L256.00,202.83 L256.50,202.98 L257.00,203.12 L257.50,203.26 L258.00,203.39 L258.50,203.52 L259.00,203.65 L259.50,203.77 L260.00,203.89 L260.50,204.00 L261.00,204.12 L261.50,204.22 L262.00,204.33 L262.50,204.43 L263.00,204.54 L263.50,204.63 L264.00,204.73 L264.50,204.82 L265.00,204.92 L265.50,205.00 L266.00,205.09 L266.50,205.18 L267.00,205.26 L267.50,205.34 L268.00,205.42 L268.50,205.50 L269.00,205.58 L269.50,205.65 L270.00,205.72 L270.50,205.80 L271.00,205.87 L271.50,205.93 L272.00,206.00 L272.50,206.07 L273.00,206.13 L273.50,206.19 L274.00,206.26 L274.50,206.32 L275.00,206.38 L275.50,206.43 L276.00,206.49 L276.50,206.55 L277.00,206.60 L277.50,206.66 L278.00,206.71 L278.50,206.76 L279.00,206.81 L279.50,206.86 L280.00,206.91 L280.50,206.96 L281.00,207.01 L281.50,207.05 L282.00,207.10 L282.50,207.15 L283.00,207.19 L283.50,207.23 L284.00,207.28 L284.50,207.32 L285.00,207.36 L285.50,207.40 L286.00,207.44 L286.50,207.48 L287.00,207.52 L287.50,207.55 L288.00,207.59 L288.50,207.63 L289.00,207.66 L289.50,207.70 L290.00,207.73 L290.50,207.77 L291.00,207.80 L291.50,207.84 L292.00,207.87 L292.50,207.90 L293.00,207.93 L293.50,207.96 L294.00,207.99 L294.50,208.02 L295.00,208.05 L295.50,208.08 L296.00,208.11 L296.50,208.14 L297.00,208.17 L297.50,208.19 L298.00,208.22 L298.50,208.25 L299.00,208.27 L299.50,208.30 L300.00,208.33 L300.50,208.35 L301.00,208.38 L301.50,208.40 L302.00,208.42 L302.50,208.45 L303.00,208.47 L303.50,208.50 L304.00,208.52 L304.50,208.54 L305.00,208.56 L305.50,208.58 L306.00,208.61 L306.50,208.63 L307.00,208.65 L307.50,208.67 L308.00,208.69 L308.50,208.71 L309.00,208.73 L309.50,208.75 L310.00,208.77 L310.50,208.79 L311.00,208.81 L311.50,208.82 L312.00,208.84 L312.50,208.86 L313.00,208.88 L313.50,208.90 L314.00,208.91 L314.50,208.93 L315.00,208.95 L315.50,208.97 L316.00,208.98 L316.50,209.00 L317.00,209.01 L317.50,209.03 L318.00,209.05 L318.50,209.06 L319.00,209.08 L319.50,209.09 L320.00,209.11 L320.50,209.12 L321.00,209.14 L321.50,209.15 L322.00,209.17 L322.50,209.18 L323.00,209.19 L323.50,209.21 L324.00,209.22 L324.50,209.23 L325.00,209.25 L325.50,209.26" fill="none" stroke="#f00000" stroke-width="1.7"/>
</g>
<path d="M59.79,218V215.80 M59.79,0.5V2.70 M76.38,218V215.80 M76.38,0.5V2.70 M92.97,218V215.80 M92.97,0.5V2.70 M109.56,218V215.80 M109.56,0.5V2.70 M126.15,218V214.40 M126.15,0.5V4.10 M142.74,218V215.80 M142.74,0.5V2.70 M159.33,218V215.80 M159.33,0.5V2.70 M175.92,218V215.80 M175.92,0.5V2.70 M192.51,218V215.80 M192.51,0.5V2.70 M209.10,218V214.40 M209.10,0.5V4.10 M225.69,218V215.80 M225.69,0.5V2.70 M242.28,218V215.80 M242.28,0.5V2.70 M258.87,218V215.80 M258.87,0.5V2.70 M275.46,218V215.80 M275.46,0.5V2.70 M292.05,218V214.40 M292.05,0.5V4.10 M308.64,218V215.80 M308.64,0.5V2.70 M42.5,211.00H46.50 M325.4,211.00H321.40 M42.5,204.21H44.70 M325.4,204.21H323.20 M42.5,197.42H44.70 M325.4,197.42H323.20 M42.5,190.62H44.70 M325.4,190.62H323.20 M42.5,183.83H44.70 M325.4,183.83H323.20 M42.5,177.04H46.50 M325.4,177.04H321.40 M42.5,170.25H44.70 M325.4,170.25H323.20 M42.5,163.46H44.70 M325.4,163.46H323.20 M42.5,156.66H44.70 M325.4,156.66H323.20 M42.5,149.87H44.70 M325.4,149.87H323.20 M42.5,143.08H46.50 M325.4,143.08H321.40 M42.5,136.29H44.70 M325.4,136.29H323.20 M42.5,129.50H44.70 M325.4,129.50H323.20 M42.5,122.70H44.70 M325.4,122.70H323.20 M42.5,115.91H44.70 M325.4,115.91H323.20 M42.5,109.12H46.50 M325.4,109.12H321.40 M42.5,102.33H44.70 M325.4,102.33H323.20 M42.5,95.54H44.70 M325.4,95.54H323.20 M42.5,88.74H44.70 M325.4,88.74H323.20 M42.5,81.95H44.70 M325.4,81.95H323.20 M42.5,75.16H46.50 M325.4,75.16H321.40 M42.5,68.37H44.70 M325.4,68.37H323.20 M42.5,61.58H44.70 M325.4,61.58H323.20 M42.5,54.78H44.70 M325.4,54.78H323.20 M42.5,47.99H44.70 M325.4,47.99H323.20 M42.5,41.20H46.50 M325.4,41.20H321.40 M42.5,34.41H44.70 M325.4,34.41H323.20 M42.5,27.62H44.70 M325.4,27.62H323.20 M42.5,20.82H44.70 M325.4,20.82H323.20 M42.5,14.03H44.70 M325.4,14.03H323.20 M42.5,7.24H46.50 M325.4,7.24H321.40 M42.5,0.45H44.70 M325.4,0.45H323.20" stroke="#383838" stroke-width="1" fill="none"/>
<path d="M42.4,0V218.5M325.4,0V218.5M42,0.6H326M42,218H326" fill="none" stroke="#1a1a1a" stroke-width="1.1"/>
<g font-size="10"><text x="38" y="214.6" text-anchor="end">0</text><text x="38" y="180.6" text-anchor="end">200</text><text x="38" y="146.7" text-anchor="end">400</text><text x="38" y="112.7" text-anchor="end">600</text><text x="38" y="78.8" text-anchor="end">800</text><text x="38" y="44.8" text-anchor="end">1000</text><text x="38" y="10.8" text-anchor="end">1200</text><text x="42.9" y="230" text-anchor="middle">359,00</text><text x="125.9" y="230" text-anchor="middle">359,05</text><text x="208.8" y="230" text-anchor="middle">359,10</text><text x="291.8" y="230" text-anchor="middle">359,15</text></g>
<g font-size="12.4">
<text x="131.0" y="245.8">Photon&#160;energy</text>
<text x="218.6" y="245.8">(</text>
<text x="225.2" y="245.8">eV</text>
<text x="243.3" y="245.8">)</text>
<g transform="translate(10,0) rotate(-90)">
<text x="-164.5" y="0">Cross&#160;section</text>
<text x="-82.6" y="0">(</text>
<text x="-74" y="0">Mb</text>
<text x="-53.2" y="0">)</text>
</g>
</g>
<path d="M150.5,10V38.5M207.5,10V38.5" stroke="#111" stroke-width="1"/>
<path d="M156,23.2H202" stroke="#999" stroke-width="0.6"/>
<path d="M151,23.2L157,21.6L157,24.8Z M207,23.2L201,21.6L201,24.8Z" fill="#111"/>
<text x="160.2" y="19.5" font-size="9.25">34.3 meV</text>
<g font-size="10.8">
<text x="56.6" y="61.2">C<tspan font-size="7" dy="-6.2">4+</tspan><tspan dy="6.2">(2s2p </tspan><tspan font-size="7" dy="-6.2">3</tspan><tspan dy="6.2">P) fine</tspan></text>
<text x="56.6" y="74.1">structure resolved</text>
</g>
<g font-size="10.6">
<text x="234.6" y="60.9">resolving power</text>
<text x="236.4" y="74.4">E/<tspan font-size="8.5">Δ</tspan>E &gt; 25,000</text>
<text x="235.8" y="100.7">stat. uncertainty</text>
<text x="235.8" y="113.7">of resonance</text>
<text x="235.8" y="126.3">position &lt;0.1 meV</text>
</g>
<g font-size="12">
<text x="143.5" y="150.5"><tspan font-size="7.5" dy="-6">3</tspan><tspan dy="6">P</tspan><tspan font-size="8.5" dy="3.5">1</tspan></text>
<text x="136.7" y="194.2"><tspan font-size="7.5" dy="-6">3</tspan><tspan dy="6">P</tspan><tspan font-size="8.5" dy="4.5">0</tspan></text>
<text x="186.6" y="177"><tspan font-size="7.5" dy="-6">3</tspan><tspan dy="6">P</tspan><tspan font-size="8.5" dy="4.5">2</tspan></text>
</g>
</svg>
</body></html>
